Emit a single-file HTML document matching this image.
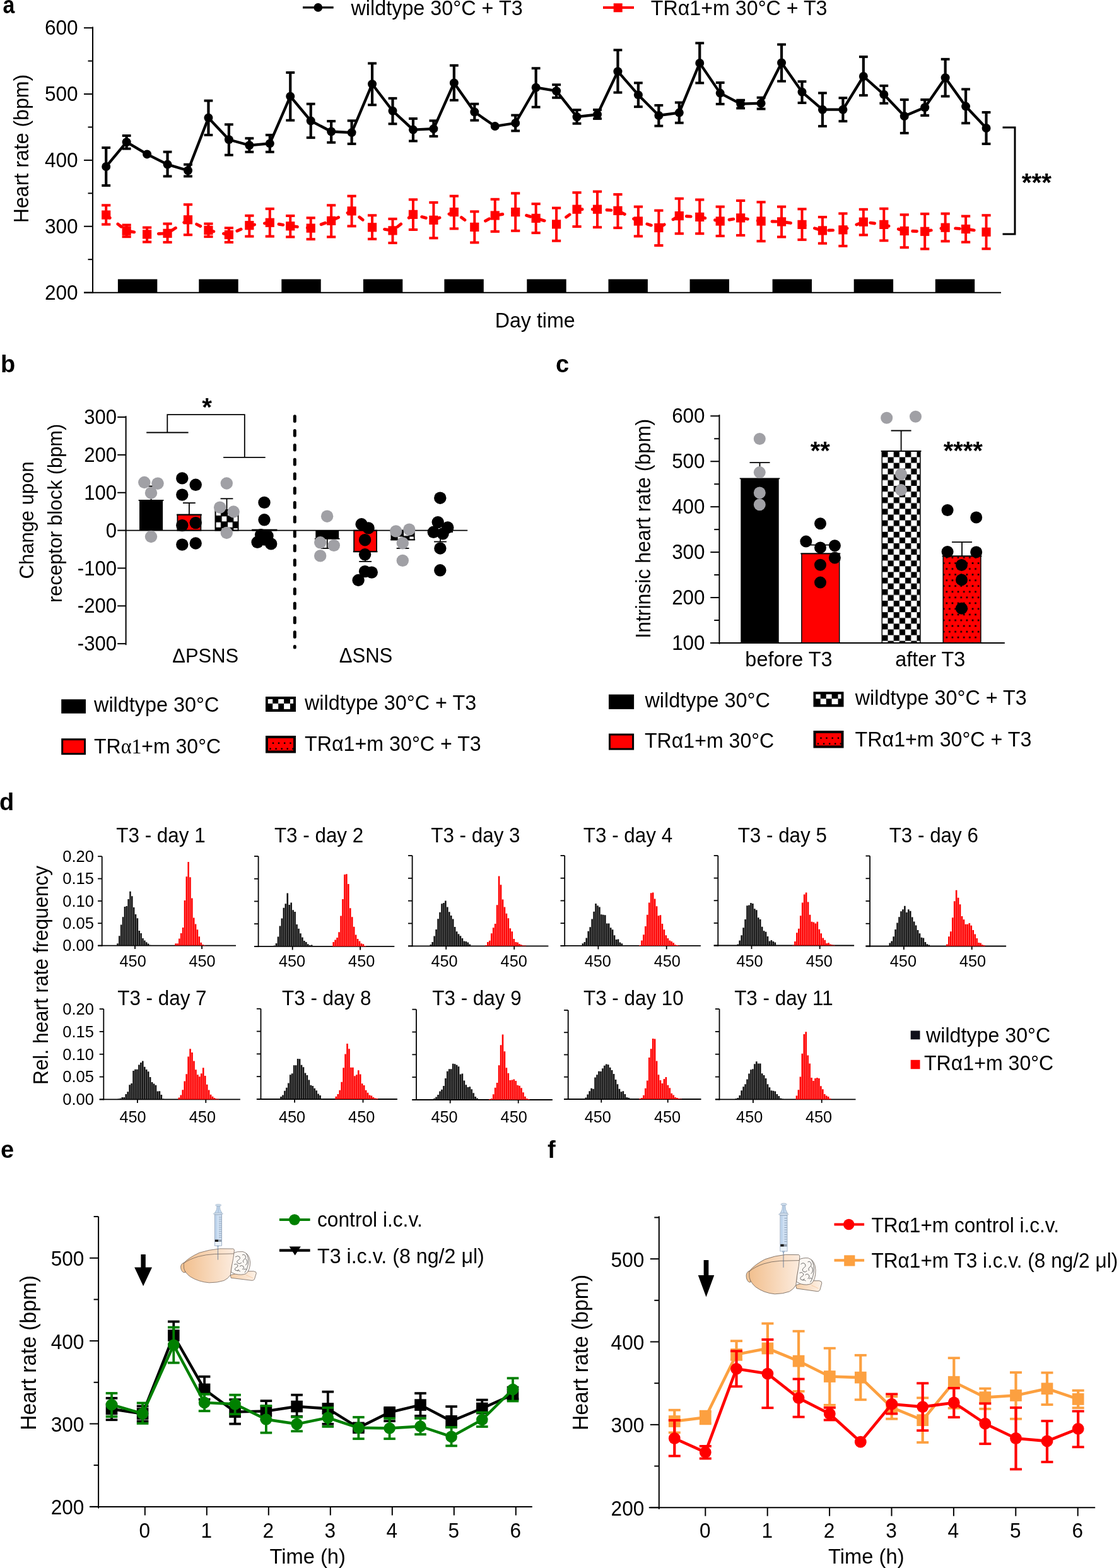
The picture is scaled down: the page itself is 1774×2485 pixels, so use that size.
<!DOCTYPE html><html><head><meta charset="utf-8"><title>Figure</title><style>html,body{margin:0;padding:0;background:#fff}svg{display:block}</style></head><body>
<svg width="1774" height="2485" viewBox="0 0 1774 2485" font-family="'Liberation Sans', Arial, Helvetica, sans-serif">
<rect width="1774" height="2485" fill="#fff"/>
<text transform="translate(4.6,20.8) scale(0.89,1)" font-size="38" font-weight="bold">a</text>
<line x1="480" y1="11.9" x2="528.7" y2="11.9" stroke="#000" stroke-width="3.4"/>
<circle cx="504.3" cy="11.9" r="6.8" fill="#000"/>
<text x="556.5" y="24.4" font-size="32.36" text-anchor="start" fill="#000" transform="matrix(1,0,0,1.04,0,-0.98)">wildtype 30°C + T3</text>
<line x1="956" y1="11.9" x2="1005" y2="11.9" stroke="#f00" stroke-width="4"/>
<rect x="972.7" y="5.3" width="14" height="14" fill="#f00"/>
<text x="1031.8" y="24.4" font-size="32.22" text-anchor="start" fill="#000" transform="matrix(1,0,0,1.04,0,-0.98)">TRα1+m 30°C + T3</text>
<line x1="147" y1="42.5" x2="147" y2="464.6" stroke="#000" stroke-width="2"/>
<line x1="133" y1="463.6" x2="147" y2="463.6" stroke="#000" stroke-width="2"/>
<text x="123.6" y="474.9" font-size="31.6" text-anchor="end" fill="#000" transform="matrix(1,0,0,1.04,0,-19)">200</text>
<line x1="133" y1="358.75" x2="147" y2="358.75" stroke="#000" stroke-width="2"/>
<text x="123.6" y="370.05" font-size="31.6" text-anchor="end" fill="#000" transform="matrix(1,0,0,1.04,0,-14.8)">300</text>
<line x1="133" y1="253.9" x2="147" y2="253.9" stroke="#000" stroke-width="2"/>
<text x="123.6" y="265.2" font-size="31.6" text-anchor="end" fill="#000" transform="matrix(1,0,0,1.04,0,-10.61)">400</text>
<line x1="133" y1="149.05" x2="147" y2="149.05" stroke="#000" stroke-width="2"/>
<text x="123.6" y="160.35" font-size="31.6" text-anchor="end" fill="#000" transform="matrix(1,0,0,1.04,0,-6.41)">500</text>
<line x1="133" y1="44.2" x2="147" y2="44.2" stroke="#000" stroke-width="2"/>
<text x="123.6" y="55.5" font-size="31.6" text-anchor="end" fill="#000" transform="matrix(1,0,0,1.04,0,-2.22)">600</text>
<line x1="139.5" y1="411.18" x2="147" y2="411.18" stroke="#000" stroke-width="2"/>
<line x1="139.5" y1="306.33" x2="147" y2="306.33" stroke="#000" stroke-width="2"/>
<line x1="139.5" y1="201.48" x2="147" y2="201.48" stroke="#000" stroke-width="2"/>
<line x1="139.5" y1="96.62" x2="147" y2="96.62" stroke="#000" stroke-width="2"/>
<line x1="133" y1="463.8" x2="1587" y2="463.8" stroke="#000" stroke-width="2"/>
<text transform="translate(44.6,235.5) rotate(-90) scale(1,1.04)" font-size="32.1" text-anchor="middle">Heart rate (bpm)</text>
<text x="848.2" y="519" font-size="32.2" text-anchor="middle" fill="#000" transform="matrix(1,0,0,1.04,0,-20.76)">Day time</text>
<rect x="186.9" y="442.5" width="62.4" height="21.5" fill="#000"/>
<rect x="315.3" y="442.5" width="62.4" height="21.5" fill="#000"/>
<rect x="446.3" y="442.5" width="62.4" height="21.5" fill="#000"/>
<rect x="575.9" y="442.5" width="62.4" height="21.5" fill="#000"/>
<rect x="704.4" y="442.5" width="62.4" height="21.5" fill="#000"/>
<rect x="835.3" y="442.5" width="62.4" height="21.5" fill="#000"/>
<rect x="964.5" y="442.5" width="62.4" height="21.5" fill="#000"/>
<rect x="1093.6" y="442.5" width="62.4" height="21.5" fill="#000"/>
<rect x="1224.6" y="442.5" width="62.4" height="21.5" fill="#000"/>
<rect x="1353.7" y="442.5" width="62.4" height="21.5" fill="#000"/>
<rect x="1482.8" y="442.5" width="62.4" height="21.5" fill="#000"/>
<path d="M1589.5,202 H1609 V370.9 H1589.5" fill="none" stroke="#000" stroke-width="3"/>
<text x="1643.3" y="303.3" font-size="40.4" text-anchor="middle" font-weight="bold" fill="#000">***</text>
<line x1="168.2" y1="234.1" x2="168.2" y2="294" stroke="#000" stroke-width="4.2"/>
<line x1="161.3" y1="234.1" x2="175.1" y2="234.1" stroke="#000" stroke-width="3.9"/>
<line x1="161.3" y1="294" x2="175.1" y2="294" stroke="#000" stroke-width="3.9"/>
<line x1="200.65" y1="215" x2="200.65" y2="235.7" stroke="#000" stroke-width="4.2"/>
<line x1="193.75" y1="215" x2="207.55" y2="215" stroke="#000" stroke-width="3.9"/>
<line x1="193.75" y1="235.7" x2="207.55" y2="235.7" stroke="#000" stroke-width="3.9"/>
<line x1="265.55" y1="240.7" x2="265.55" y2="279.4" stroke="#000" stroke-width="4.2"/>
<line x1="258.65" y1="240.7" x2="272.45" y2="240.7" stroke="#000" stroke-width="3.9"/>
<line x1="258.65" y1="279.4" x2="272.45" y2="279.4" stroke="#000" stroke-width="3.9"/>
<line x1="298" y1="260.7" x2="298" y2="279.4" stroke="#000" stroke-width="4.2"/>
<line x1="291.1" y1="260.7" x2="304.9" y2="260.7" stroke="#000" stroke-width="3.9"/>
<line x1="291.1" y1="279.4" x2="304.9" y2="279.4" stroke="#000" stroke-width="3.9"/>
<line x1="330.45" y1="159.6" x2="330.45" y2="214" stroke="#000" stroke-width="4.2"/>
<line x1="323.55" y1="159.6" x2="337.35" y2="159.6" stroke="#000" stroke-width="3.9"/>
<line x1="323.55" y1="214" x2="337.35" y2="214" stroke="#000" stroke-width="3.9"/>
<line x1="362.9" y1="197.3" x2="362.9" y2="245.7" stroke="#000" stroke-width="4.2"/>
<line x1="356" y1="197.3" x2="369.8" y2="197.3" stroke="#000" stroke-width="3.9"/>
<line x1="356" y1="245.7" x2="369.8" y2="245.7" stroke="#000" stroke-width="3.9"/>
<line x1="395.35" y1="219.2" x2="395.35" y2="240.8" stroke="#000" stroke-width="4.2"/>
<line x1="388.45" y1="219.2" x2="402.25" y2="219.2" stroke="#000" stroke-width="3.9"/>
<line x1="388.45" y1="240.8" x2="402.25" y2="240.8" stroke="#000" stroke-width="3.9"/>
<line x1="427.8" y1="213.9" x2="427.8" y2="240.8" stroke="#000" stroke-width="4.2"/>
<line x1="420.9" y1="213.9" x2="434.7" y2="213.9" stroke="#000" stroke-width="3.9"/>
<line x1="420.9" y1="240.8" x2="434.7" y2="240.8" stroke="#000" stroke-width="3.9"/>
<line x1="460.25" y1="115" x2="460.25" y2="190.7" stroke="#000" stroke-width="4.2"/>
<line x1="453.35" y1="115" x2="467.15" y2="115" stroke="#000" stroke-width="3.9"/>
<line x1="453.35" y1="190.7" x2="467.15" y2="190.7" stroke="#000" stroke-width="3.9"/>
<line x1="492.7" y1="164.7" x2="492.7" y2="218.2" stroke="#000" stroke-width="4.2"/>
<line x1="485.8" y1="164.7" x2="499.6" y2="164.7" stroke="#000" stroke-width="3.9"/>
<line x1="485.8" y1="218.2" x2="499.6" y2="218.2" stroke="#000" stroke-width="3.9"/>
<line x1="525.15" y1="192" x2="525.15" y2="225.8" stroke="#000" stroke-width="4.2"/>
<line x1="518.25" y1="192" x2="532.05" y2="192" stroke="#000" stroke-width="3.9"/>
<line x1="518.25" y1="225.8" x2="532.05" y2="225.8" stroke="#000" stroke-width="3.9"/>
<line x1="557.6" y1="191.3" x2="557.6" y2="228" stroke="#000" stroke-width="4.2"/>
<line x1="550.7" y1="191.3" x2="564.5" y2="191.3" stroke="#000" stroke-width="3.9"/>
<line x1="550.7" y1="228" x2="564.5" y2="228" stroke="#000" stroke-width="3.9"/>
<line x1="590.05" y1="100.4" x2="590.05" y2="166.3" stroke="#000" stroke-width="4.2"/>
<line x1="583.15" y1="100.4" x2="596.95" y2="100.4" stroke="#000" stroke-width="3.9"/>
<line x1="583.15" y1="166.3" x2="596.95" y2="166.3" stroke="#000" stroke-width="3.9"/>
<line x1="622.5" y1="155.8" x2="622.5" y2="196.3" stroke="#000" stroke-width="4.2"/>
<line x1="615.6" y1="155.8" x2="629.4" y2="155.8" stroke="#000" stroke-width="3.9"/>
<line x1="615.6" y1="196.3" x2="629.4" y2="196.3" stroke="#000" stroke-width="3.9"/>
<line x1="654.95" y1="188" x2="654.95" y2="223.5" stroke="#000" stroke-width="4.2"/>
<line x1="648.05" y1="188" x2="661.85" y2="188" stroke="#000" stroke-width="3.9"/>
<line x1="648.05" y1="223.5" x2="661.85" y2="223.5" stroke="#000" stroke-width="3.9"/>
<line x1="687.4" y1="191.3" x2="687.4" y2="216" stroke="#000" stroke-width="4.2"/>
<line x1="680.5" y1="191.3" x2="694.3" y2="191.3" stroke="#000" stroke-width="3.9"/>
<line x1="680.5" y1="216" x2="694.3" y2="216" stroke="#000" stroke-width="3.9"/>
<line x1="719.85" y1="103.7" x2="719.85" y2="158.8" stroke="#000" stroke-width="4.2"/>
<line x1="712.95" y1="103.7" x2="726.75" y2="103.7" stroke="#000" stroke-width="3.9"/>
<line x1="712.95" y1="158.8" x2="726.75" y2="158.8" stroke="#000" stroke-width="3.9"/>
<line x1="752.3" y1="164.7" x2="752.3" y2="190.7" stroke="#000" stroke-width="4.2"/>
<line x1="745.4" y1="164.7" x2="759.2" y2="164.7" stroke="#000" stroke-width="3.9"/>
<line x1="745.4" y1="190.7" x2="759.2" y2="190.7" stroke="#000" stroke-width="3.9"/>
<line x1="817.2" y1="182.6" x2="817.2" y2="207.4" stroke="#000" stroke-width="4.2"/>
<line x1="810.3" y1="182.6" x2="824.1" y2="182.6" stroke="#000" stroke-width="3.9"/>
<line x1="810.3" y1="207.4" x2="824.1" y2="207.4" stroke="#000" stroke-width="3.9"/>
<line x1="849.65" y1="108.2" x2="849.65" y2="169.7" stroke="#000" stroke-width="4.2"/>
<line x1="842.75" y1="108.2" x2="856.55" y2="108.2" stroke="#000" stroke-width="3.9"/>
<line x1="842.75" y1="169.7" x2="856.55" y2="169.7" stroke="#000" stroke-width="3.9"/>
<line x1="882.1" y1="134.3" x2="882.1" y2="154.8" stroke="#000" stroke-width="4.2"/>
<line x1="875.2" y1="134.3" x2="889" y2="134.3" stroke="#000" stroke-width="3.9"/>
<line x1="875.2" y1="154.8" x2="889" y2="154.8" stroke="#000" stroke-width="3.9"/>
<line x1="914.55" y1="174.2" x2="914.55" y2="195.8" stroke="#000" stroke-width="4.2"/>
<line x1="907.65" y1="174.2" x2="921.45" y2="174.2" stroke="#000" stroke-width="3.9"/>
<line x1="907.65" y1="195.8" x2="921.45" y2="195.8" stroke="#000" stroke-width="3.9"/>
<line x1="947" y1="174" x2="947" y2="188.1" stroke="#000" stroke-width="4.2"/>
<line x1="940.1" y1="174" x2="953.9" y2="174" stroke="#000" stroke-width="3.9"/>
<line x1="940.1" y1="188.1" x2="953.9" y2="188.1" stroke="#000" stroke-width="3.9"/>
<line x1="979.45" y1="79.3" x2="979.45" y2="146.6" stroke="#000" stroke-width="4.2"/>
<line x1="972.55" y1="79.3" x2="986.35" y2="79.3" stroke="#000" stroke-width="3.9"/>
<line x1="972.55" y1="146.6" x2="986.35" y2="146.6" stroke="#000" stroke-width="3.9"/>
<line x1="1011.9" y1="131.4" x2="1011.9" y2="169.2" stroke="#000" stroke-width="4.2"/>
<line x1="1005" y1="131.4" x2="1018.8" y2="131.4" stroke="#000" stroke-width="3.9"/>
<line x1="1005" y1="169.2" x2="1018.8" y2="169.2" stroke="#000" stroke-width="3.9"/>
<line x1="1044.35" y1="166.9" x2="1044.35" y2="199.6" stroke="#000" stroke-width="4.2"/>
<line x1="1037.45" y1="166.9" x2="1051.25" y2="166.9" stroke="#000" stroke-width="3.9"/>
<line x1="1037.45" y1="199.6" x2="1051.25" y2="199.6" stroke="#000" stroke-width="3.9"/>
<line x1="1076.8" y1="162.5" x2="1076.8" y2="194.7" stroke="#000" stroke-width="4.2"/>
<line x1="1069.9" y1="162.5" x2="1083.7" y2="162.5" stroke="#000" stroke-width="3.9"/>
<line x1="1069.9" y1="194.7" x2="1083.7" y2="194.7" stroke="#000" stroke-width="3.9"/>
<line x1="1109.25" y1="68.3" x2="1109.25" y2="131.5" stroke="#000" stroke-width="4.2"/>
<line x1="1102.35" y1="68.3" x2="1116.15" y2="68.3" stroke="#000" stroke-width="3.9"/>
<line x1="1102.35" y1="131.5" x2="1116.15" y2="131.5" stroke="#000" stroke-width="3.9"/>
<line x1="1141.7" y1="131" x2="1141.7" y2="164.9" stroke="#000" stroke-width="4.2"/>
<line x1="1134.8" y1="131" x2="1148.6" y2="131" stroke="#000" stroke-width="3.9"/>
<line x1="1134.8" y1="164.9" x2="1148.6" y2="164.9" stroke="#000" stroke-width="3.9"/>
<line x1="1174.15" y1="158.7" x2="1174.15" y2="171.5" stroke="#000" stroke-width="4.2"/>
<line x1="1167.25" y1="158.7" x2="1181.05" y2="158.7" stroke="#000" stroke-width="3.9"/>
<line x1="1167.25" y1="171.5" x2="1181.05" y2="171.5" stroke="#000" stroke-width="3.9"/>
<line x1="1206.6" y1="154.7" x2="1206.6" y2="172.6" stroke="#000" stroke-width="4.2"/>
<line x1="1199.7" y1="154.7" x2="1213.5" y2="154.7" stroke="#000" stroke-width="3.9"/>
<line x1="1199.7" y1="172.6" x2="1213.5" y2="172.6" stroke="#000" stroke-width="3.9"/>
<line x1="1239.05" y1="70.5" x2="1239.05" y2="128.7" stroke="#000" stroke-width="4.2"/>
<line x1="1232.15" y1="70.5" x2="1245.95" y2="70.5" stroke="#000" stroke-width="3.9"/>
<line x1="1232.15" y1="128.7" x2="1245.95" y2="128.7" stroke="#000" stroke-width="3.9"/>
<line x1="1271.5" y1="129.2" x2="1271.5" y2="163" stroke="#000" stroke-width="4.2"/>
<line x1="1264.6" y1="129.2" x2="1278.4" y2="129.2" stroke="#000" stroke-width="3.9"/>
<line x1="1264.6" y1="163" x2="1278.4" y2="163" stroke="#000" stroke-width="3.9"/>
<line x1="1303.95" y1="147.4" x2="1303.95" y2="200" stroke="#000" stroke-width="4.2"/>
<line x1="1297.05" y1="147.4" x2="1310.85" y2="147.4" stroke="#000" stroke-width="3.9"/>
<line x1="1297.05" y1="200" x2="1310.85" y2="200" stroke="#000" stroke-width="3.9"/>
<line x1="1336.4" y1="155.2" x2="1336.4" y2="192.1" stroke="#000" stroke-width="4.2"/>
<line x1="1329.5" y1="155.2" x2="1343.3" y2="155.2" stroke="#000" stroke-width="3.9"/>
<line x1="1329.5" y1="192.1" x2="1343.3" y2="192.1" stroke="#000" stroke-width="3.9"/>
<line x1="1368.85" y1="90" x2="1368.85" y2="151.1" stroke="#000" stroke-width="4.2"/>
<line x1="1361.95" y1="90" x2="1375.75" y2="90" stroke="#000" stroke-width="3.9"/>
<line x1="1361.95" y1="151.1" x2="1375.75" y2="151.1" stroke="#000" stroke-width="3.9"/>
<line x1="1401.3" y1="135.9" x2="1401.3" y2="163.7" stroke="#000" stroke-width="4.2"/>
<line x1="1394.4" y1="135.9" x2="1408.2" y2="135.9" stroke="#000" stroke-width="3.9"/>
<line x1="1394.4" y1="163.7" x2="1408.2" y2="163.7" stroke="#000" stroke-width="3.9"/>
<line x1="1433.75" y1="158" x2="1433.75" y2="210.9" stroke="#000" stroke-width="4.2"/>
<line x1="1426.85" y1="158" x2="1440.65" y2="158" stroke="#000" stroke-width="3.9"/>
<line x1="1426.85" y1="210.9" x2="1440.65" y2="210.9" stroke="#000" stroke-width="3.9"/>
<line x1="1466.2" y1="158" x2="1466.2" y2="183" stroke="#000" stroke-width="4.2"/>
<line x1="1459.3" y1="158" x2="1473.1" y2="158" stroke="#000" stroke-width="3.9"/>
<line x1="1459.3" y1="183" x2="1473.1" y2="183" stroke="#000" stroke-width="3.9"/>
<line x1="1498.65" y1="93.8" x2="1498.65" y2="152.6" stroke="#000" stroke-width="4.2"/>
<line x1="1491.75" y1="93.8" x2="1505.55" y2="93.8" stroke="#000" stroke-width="3.9"/>
<line x1="1491.75" y1="152.6" x2="1505.55" y2="152.6" stroke="#000" stroke-width="3.9"/>
<line x1="1531.1" y1="141.4" x2="1531.1" y2="195.2" stroke="#000" stroke-width="4.2"/>
<line x1="1524.2" y1="141.4" x2="1538" y2="141.4" stroke="#000" stroke-width="3.9"/>
<line x1="1524.2" y1="195.2" x2="1538" y2="195.2" stroke="#000" stroke-width="3.9"/>
<line x1="1563.55" y1="178" x2="1563.55" y2="228" stroke="#000" stroke-width="4.2"/>
<line x1="1556.65" y1="178" x2="1570.45" y2="178" stroke="#000" stroke-width="3.9"/>
<line x1="1556.65" y1="228" x2="1570.45" y2="228" stroke="#000" stroke-width="3.9"/>
<polyline points="168.2,264 200.65,225.2 233.1,244.4 265.55,260.6 298,270.2 330.45,186.8 362.9,221.2 395.35,230.3 427.8,227.4 460.25,152.7 492.7,191.5 525.15,208.5 557.6,210.1 590.05,133.2 622.5,175.7 654.95,205.6 687.4,204.1 719.85,131.4 752.3,177.5 784.75,200.1 817.2,195 849.65,138.7 882.1,144.2 914.55,185.2 947,181.5 979.45,113.2 1011.9,150.4 1044.35,183 1076.8,178.6 1109.25,99.9 1141.7,147.6 1174.15,164.6 1206.6,163.7 1239.05,99.5 1271.5,145.8 1303.95,173.7 1336.4,173.7 1368.85,121 1401.3,149.8 1433.75,184.1 1466.2,170.2 1498.65,123.2 1531.1,168.6 1563.55,203" fill="none" stroke="#000" stroke-width="4.3" stroke-linejoin="round"/>
<circle cx="168.2" cy="264" r="7" fill="#000"/>
<circle cx="200.65" cy="225.2" r="7" fill="#000"/>
<circle cx="233.1" cy="244.4" r="7" fill="#000"/>
<circle cx="265.55" cy="260.6" r="7" fill="#000"/>
<circle cx="298" cy="270.2" r="7" fill="#000"/>
<circle cx="330.45" cy="186.8" r="7" fill="#000"/>
<circle cx="362.9" cy="221.2" r="7" fill="#000"/>
<circle cx="395.35" cy="230.3" r="7" fill="#000"/>
<circle cx="427.8" cy="227.4" r="7" fill="#000"/>
<circle cx="460.25" cy="152.7" r="7" fill="#000"/>
<circle cx="492.7" cy="191.5" r="7" fill="#000"/>
<circle cx="525.15" cy="208.5" r="7" fill="#000"/>
<circle cx="557.6" cy="210.1" r="7" fill="#000"/>
<circle cx="590.05" cy="133.2" r="7" fill="#000"/>
<circle cx="622.5" cy="175.7" r="7" fill="#000"/>
<circle cx="654.95" cy="205.6" r="7" fill="#000"/>
<circle cx="687.4" cy="204.1" r="7" fill="#000"/>
<circle cx="719.85" cy="131.4" r="7" fill="#000"/>
<circle cx="752.3" cy="177.5" r="7" fill="#000"/>
<circle cx="784.75" cy="200.1" r="7" fill="#000"/>
<circle cx="817.2" cy="195" r="7" fill="#000"/>
<circle cx="849.65" cy="138.7" r="7" fill="#000"/>
<circle cx="882.1" cy="144.2" r="7" fill="#000"/>
<circle cx="914.55" cy="185.2" r="7" fill="#000"/>
<circle cx="947" cy="181.5" r="7" fill="#000"/>
<circle cx="979.45" cy="113.2" r="7" fill="#000"/>
<circle cx="1011.9" cy="150.4" r="7" fill="#000"/>
<circle cx="1044.35" cy="183" r="7" fill="#000"/>
<circle cx="1076.8" cy="178.6" r="7" fill="#000"/>
<circle cx="1109.25" cy="99.9" r="7" fill="#000"/>
<circle cx="1141.7" cy="147.6" r="7" fill="#000"/>
<circle cx="1174.15" cy="164.6" r="7" fill="#000"/>
<circle cx="1206.6" cy="163.7" r="7" fill="#000"/>
<circle cx="1239.05" cy="99.5" r="7" fill="#000"/>
<circle cx="1271.5" cy="145.8" r="7" fill="#000"/>
<circle cx="1303.95" cy="173.7" r="7" fill="#000"/>
<circle cx="1336.4" cy="173.7" r="7" fill="#000"/>
<circle cx="1368.85" cy="121" r="7" fill="#000"/>
<circle cx="1401.3" cy="149.8" r="7" fill="#000"/>
<circle cx="1433.75" cy="184.1" r="7" fill="#000"/>
<circle cx="1466.2" cy="170.2" r="7" fill="#000"/>
<circle cx="1498.65" cy="123.2" r="7" fill="#000"/>
<circle cx="1531.1" cy="168.6" r="7" fill="#000"/>
<circle cx="1563.55" cy="203" r="7" fill="#000"/>
<line x1="168.2" y1="325.3" x2="168.2" y2="355.6" stroke="#f00" stroke-width="4.0"/>
<line x1="161.1" y1="325.3" x2="175.3" y2="325.3" stroke="#f00" stroke-width="4.0"/>
<line x1="161.1" y1="355.6" x2="175.3" y2="355.6" stroke="#f00" stroke-width="4.0"/>
<line x1="200.65" y1="356.6" x2="200.65" y2="375.2" stroke="#f00" stroke-width="4.0"/>
<line x1="193.55" y1="356.6" x2="207.75" y2="356.6" stroke="#f00" stroke-width="4.0"/>
<line x1="193.55" y1="375.2" x2="207.75" y2="375.2" stroke="#f00" stroke-width="4.0"/>
<line x1="233.1" y1="360.6" x2="233.1" y2="383.5" stroke="#f00" stroke-width="4.0"/>
<line x1="226" y1="360.6" x2="240.2" y2="360.6" stroke="#f00" stroke-width="4.0"/>
<line x1="226" y1="383.5" x2="240.2" y2="383.5" stroke="#f00" stroke-width="4.0"/>
<line x1="265.55" y1="354.6" x2="265.55" y2="383.9" stroke="#f00" stroke-width="4.0"/>
<line x1="258.45" y1="354.6" x2="272.65" y2="354.6" stroke="#f00" stroke-width="4.0"/>
<line x1="258.45" y1="383.9" x2="272.65" y2="383.9" stroke="#f00" stroke-width="4.0"/>
<line x1="298" y1="324.2" x2="298" y2="372.2" stroke="#f00" stroke-width="4.0"/>
<line x1="290.9" y1="324.2" x2="305.1" y2="324.2" stroke="#f00" stroke-width="4.0"/>
<line x1="290.9" y1="372.2" x2="305.1" y2="372.2" stroke="#f00" stroke-width="4.0"/>
<line x1="330.45" y1="354.6" x2="330.45" y2="375.1" stroke="#f00" stroke-width="4.0"/>
<line x1="323.35" y1="354.6" x2="337.55" y2="354.6" stroke="#f00" stroke-width="4.0"/>
<line x1="323.35" y1="375.1" x2="337.55" y2="375.1" stroke="#f00" stroke-width="4.0"/>
<line x1="362.9" y1="361.3" x2="362.9" y2="383.9" stroke="#f00" stroke-width="4.0"/>
<line x1="355.8" y1="361.3" x2="370" y2="361.3" stroke="#f00" stroke-width="4.0"/>
<line x1="355.8" y1="383.9" x2="370" y2="383.9" stroke="#f00" stroke-width="4.0"/>
<line x1="395.35" y1="341.8" x2="395.35" y2="374.6" stroke="#f00" stroke-width="4.0"/>
<line x1="388.25" y1="341.8" x2="402.45" y2="341.8" stroke="#f00" stroke-width="4.0"/>
<line x1="388.25" y1="374.6" x2="402.45" y2="374.6" stroke="#f00" stroke-width="4.0"/>
<line x1="427.8" y1="330.9" x2="427.8" y2="374.6" stroke="#f00" stroke-width="4.0"/>
<line x1="420.7" y1="330.9" x2="434.9" y2="330.9" stroke="#f00" stroke-width="4.0"/>
<line x1="420.7" y1="374.6" x2="434.9" y2="374.6" stroke="#f00" stroke-width="4.0"/>
<line x1="460.25" y1="342" x2="460.25" y2="375.5" stroke="#f00" stroke-width="4.0"/>
<line x1="453.15" y1="342" x2="467.35" y2="342" stroke="#f00" stroke-width="4.0"/>
<line x1="453.15" y1="375.5" x2="467.35" y2="375.5" stroke="#f00" stroke-width="4.0"/>
<line x1="492.7" y1="345.3" x2="492.7" y2="379.1" stroke="#f00" stroke-width="4.0"/>
<line x1="485.6" y1="345.3" x2="499.8" y2="345.3" stroke="#f00" stroke-width="4.0"/>
<line x1="485.6" y1="379.1" x2="499.8" y2="379.1" stroke="#f00" stroke-width="4.0"/>
<line x1="525.15" y1="325.3" x2="525.15" y2="375.5" stroke="#f00" stroke-width="4.0"/>
<line x1="518.05" y1="325.3" x2="532.25" y2="325.3" stroke="#f00" stroke-width="4.0"/>
<line x1="518.05" y1="375.5" x2="532.25" y2="375.5" stroke="#f00" stroke-width="4.0"/>
<line x1="557.6" y1="310.7" x2="557.6" y2="358.4" stroke="#f00" stroke-width="4.0"/>
<line x1="550.5" y1="310.7" x2="564.7" y2="310.7" stroke="#f00" stroke-width="4.0"/>
<line x1="550.5" y1="358.4" x2="564.7" y2="358.4" stroke="#f00" stroke-width="4.0"/>
<line x1="590.05" y1="341.3" x2="590.05" y2="378.8" stroke="#f00" stroke-width="4.0"/>
<line x1="582.95" y1="341.3" x2="597.15" y2="341.3" stroke="#f00" stroke-width="4.0"/>
<line x1="582.95" y1="378.8" x2="597.15" y2="378.8" stroke="#f00" stroke-width="4.0"/>
<line x1="622.5" y1="346.9" x2="622.5" y2="385" stroke="#f00" stroke-width="4.0"/>
<line x1="615.4" y1="346.9" x2="629.6" y2="346.9" stroke="#f00" stroke-width="4.0"/>
<line x1="615.4" y1="385" x2="629.6" y2="385" stroke="#f00" stroke-width="4.0"/>
<line x1="654.95" y1="316.3" x2="654.95" y2="364" stroke="#f00" stroke-width="4.0"/>
<line x1="647.85" y1="316.3" x2="662.05" y2="316.3" stroke="#f00" stroke-width="4.0"/>
<line x1="647.85" y1="364" x2="662.05" y2="364" stroke="#f00" stroke-width="4.0"/>
<line x1="687.4" y1="320.9" x2="687.4" y2="377.3" stroke="#f00" stroke-width="4.0"/>
<line x1="680.3" y1="320.9" x2="694.5" y2="320.9" stroke="#f00" stroke-width="4.0"/>
<line x1="680.3" y1="377.3" x2="694.5" y2="377.3" stroke="#f00" stroke-width="4.0"/>
<line x1="719.85" y1="310.7" x2="719.85" y2="362.4" stroke="#f00" stroke-width="4.0"/>
<line x1="712.75" y1="310.7" x2="726.95" y2="310.7" stroke="#f00" stroke-width="4.0"/>
<line x1="712.75" y1="362.4" x2="726.95" y2="362.4" stroke="#f00" stroke-width="4.0"/>
<line x1="752.3" y1="335.3" x2="752.3" y2="384.4" stroke="#f00" stroke-width="4.0"/>
<line x1="745.2" y1="335.3" x2="759.4" y2="335.3" stroke="#f00" stroke-width="4.0"/>
<line x1="745.2" y1="384.4" x2="759.4" y2="384.4" stroke="#f00" stroke-width="4.0"/>
<line x1="784.75" y1="315.8" x2="784.75" y2="366.9" stroke="#f00" stroke-width="4.0"/>
<line x1="777.65" y1="315.8" x2="791.85" y2="315.8" stroke="#f00" stroke-width="4.0"/>
<line x1="777.65" y1="366.9" x2="791.85" y2="366.9" stroke="#f00" stroke-width="4.0"/>
<line x1="817.2" y1="306.3" x2="817.2" y2="365.8" stroke="#f00" stroke-width="4.0"/>
<line x1="810.1" y1="306.3" x2="824.3" y2="306.3" stroke="#f00" stroke-width="4.0"/>
<line x1="810.1" y1="365.8" x2="824.3" y2="365.8" stroke="#f00" stroke-width="4.0"/>
<line x1="849.65" y1="323.1" x2="849.65" y2="369.1" stroke="#f00" stroke-width="4.0"/>
<line x1="842.55" y1="323.1" x2="856.75" y2="323.1" stroke="#f00" stroke-width="4.0"/>
<line x1="842.55" y1="369.1" x2="856.75" y2="369.1" stroke="#f00" stroke-width="4.0"/>
<line x1="882.1" y1="329.6" x2="882.1" y2="381.7" stroke="#f00" stroke-width="4.0"/>
<line x1="875" y1="329.6" x2="889.2" y2="329.6" stroke="#f00" stroke-width="4.0"/>
<line x1="875" y1="381.7" x2="889.2" y2="381.7" stroke="#f00" stroke-width="4.0"/>
<line x1="914.55" y1="305.2" x2="914.55" y2="359.1" stroke="#f00" stroke-width="4.0"/>
<line x1="907.45" y1="305.2" x2="921.65" y2="305.2" stroke="#f00" stroke-width="4.0"/>
<line x1="907.45" y1="359.1" x2="921.65" y2="359.1" stroke="#f00" stroke-width="4.0"/>
<line x1="947" y1="303.6" x2="947" y2="360.2" stroke="#f00" stroke-width="4.0"/>
<line x1="939.9" y1="303.6" x2="954.1" y2="303.6" stroke="#f00" stroke-width="4.0"/>
<line x1="939.9" y1="360.2" x2="954.1" y2="360.2" stroke="#f00" stroke-width="4.0"/>
<line x1="979.45" y1="308.1" x2="979.45" y2="361.1" stroke="#f00" stroke-width="4.0"/>
<line x1="972.35" y1="308.1" x2="986.55" y2="308.1" stroke="#f00" stroke-width="4.0"/>
<line x1="972.35" y1="361.1" x2="986.55" y2="361.1" stroke="#f00" stroke-width="4.0"/>
<line x1="1011.9" y1="327.6" x2="1011.9" y2="374.4" stroke="#f00" stroke-width="4.0"/>
<line x1="1004.8" y1="327.6" x2="1019" y2="327.6" stroke="#f00" stroke-width="4.0"/>
<line x1="1004.8" y1="374.4" x2="1019" y2="374.4" stroke="#f00" stroke-width="4.0"/>
<line x1="1044.35" y1="333.6" x2="1044.35" y2="389" stroke="#f00" stroke-width="4.0"/>
<line x1="1037.25" y1="333.6" x2="1051.45" y2="333.6" stroke="#f00" stroke-width="4.0"/>
<line x1="1037.25" y1="389" x2="1051.45" y2="389" stroke="#f00" stroke-width="4.0"/>
<line x1="1076.8" y1="314.7" x2="1076.8" y2="370.2" stroke="#f00" stroke-width="4.0"/>
<line x1="1069.7" y1="314.7" x2="1083.9" y2="314.7" stroke="#f00" stroke-width="4.0"/>
<line x1="1069.7" y1="370.2" x2="1083.9" y2="370.2" stroke="#f00" stroke-width="4.0"/>
<line x1="1109.25" y1="316.5" x2="1109.25" y2="370.2" stroke="#f00" stroke-width="4.0"/>
<line x1="1102.15" y1="316.5" x2="1116.35" y2="316.5" stroke="#f00" stroke-width="4.0"/>
<line x1="1102.15" y1="370.2" x2="1116.35" y2="370.2" stroke="#f00" stroke-width="4.0"/>
<line x1="1141.7" y1="327.6" x2="1141.7" y2="374" stroke="#f00" stroke-width="4.0"/>
<line x1="1134.6" y1="327.6" x2="1148.8" y2="327.6" stroke="#f00" stroke-width="4.0"/>
<line x1="1134.6" y1="374" x2="1148.8" y2="374" stroke="#f00" stroke-width="4.0"/>
<line x1="1174.15" y1="318" x2="1174.15" y2="372.9" stroke="#f00" stroke-width="4.0"/>
<line x1="1167.05" y1="318" x2="1181.25" y2="318" stroke="#f00" stroke-width="4.0"/>
<line x1="1167.05" y1="372.9" x2="1181.25" y2="372.9" stroke="#f00" stroke-width="4.0"/>
<line x1="1206.6" y1="320.3" x2="1206.6" y2="382.2" stroke="#f00" stroke-width="4.0"/>
<line x1="1199.5" y1="320.3" x2="1213.7" y2="320.3" stroke="#f00" stroke-width="4.0"/>
<line x1="1199.5" y1="382.2" x2="1213.7" y2="382.2" stroke="#f00" stroke-width="4.0"/>
<line x1="1239.05" y1="327.6" x2="1239.05" y2="375.5" stroke="#f00" stroke-width="4.0"/>
<line x1="1231.95" y1="327.6" x2="1246.15" y2="327.6" stroke="#f00" stroke-width="4.0"/>
<line x1="1231.95" y1="375.5" x2="1246.15" y2="375.5" stroke="#f00" stroke-width="4.0"/>
<line x1="1271.5" y1="331.3" x2="1271.5" y2="379.9" stroke="#f00" stroke-width="4.0"/>
<line x1="1264.4" y1="331.3" x2="1278.6" y2="331.3" stroke="#f00" stroke-width="4.0"/>
<line x1="1264.4" y1="379.9" x2="1278.6" y2="379.9" stroke="#f00" stroke-width="4.0"/>
<line x1="1303.95" y1="344" x2="1303.95" y2="385.7" stroke="#f00" stroke-width="4.0"/>
<line x1="1296.85" y1="344" x2="1311.05" y2="344" stroke="#f00" stroke-width="4.0"/>
<line x1="1296.85" y1="385.7" x2="1311.05" y2="385.7" stroke="#f00" stroke-width="4.0"/>
<line x1="1336.4" y1="338.4" x2="1336.4" y2="389.9" stroke="#f00" stroke-width="4.0"/>
<line x1="1329.3" y1="338.4" x2="1343.5" y2="338.4" stroke="#f00" stroke-width="4.0"/>
<line x1="1329.3" y1="389.9" x2="1343.5" y2="389.9" stroke="#f00" stroke-width="4.0"/>
<line x1="1368.85" y1="331.8" x2="1368.85" y2="372.4" stroke="#f00" stroke-width="4.0"/>
<line x1="1361.75" y1="331.8" x2="1375.95" y2="331.8" stroke="#f00" stroke-width="4.0"/>
<line x1="1361.75" y1="372.4" x2="1375.95" y2="372.4" stroke="#f00" stroke-width="4.0"/>
<line x1="1401.3" y1="330.7" x2="1401.3" y2="381.3" stroke="#f00" stroke-width="4.0"/>
<line x1="1394.2" y1="330.7" x2="1408.4" y2="330.7" stroke="#f00" stroke-width="4.0"/>
<line x1="1394.2" y1="381.3" x2="1408.4" y2="381.3" stroke="#f00" stroke-width="4.0"/>
<line x1="1433.75" y1="340.3" x2="1433.75" y2="392.2" stroke="#f00" stroke-width="4.0"/>
<line x1="1426.65" y1="340.3" x2="1440.85" y2="340.3" stroke="#f00" stroke-width="4.0"/>
<line x1="1426.65" y1="392.2" x2="1440.85" y2="392.2" stroke="#f00" stroke-width="4.0"/>
<line x1="1466.2" y1="338.9" x2="1466.2" y2="394.5" stroke="#f00" stroke-width="4.0"/>
<line x1="1459.1" y1="338.9" x2="1473.3" y2="338.9" stroke="#f00" stroke-width="4.0"/>
<line x1="1459.1" y1="394.5" x2="1473.3" y2="394.5" stroke="#f00" stroke-width="4.0"/>
<line x1="1498.65" y1="338.6" x2="1498.65" y2="382.3" stroke="#f00" stroke-width="4.0"/>
<line x1="1491.55" y1="338.6" x2="1505.75" y2="338.6" stroke="#f00" stroke-width="4.0"/>
<line x1="1491.55" y1="382.3" x2="1505.75" y2="382.3" stroke="#f00" stroke-width="4.0"/>
<line x1="1531.1" y1="342.6" x2="1531.1" y2="383.7" stroke="#f00" stroke-width="4.0"/>
<line x1="1524" y1="342.6" x2="1538.2" y2="342.6" stroke="#f00" stroke-width="4.0"/>
<line x1="1524" y1="383.7" x2="1538.2" y2="383.7" stroke="#f00" stroke-width="4.0"/>
<line x1="1563.55" y1="341.2" x2="1563.55" y2="394.3" stroke="#f00" stroke-width="4.0"/>
<line x1="1556.45" y1="341.2" x2="1570.65" y2="341.2" stroke="#f00" stroke-width="4.0"/>
<line x1="1556.45" y1="394.3" x2="1570.65" y2="394.3" stroke="#f00" stroke-width="4.0"/>
<polyline points="168.2,340.6 200.65,365.8 233.1,371.4 265.55,369.8 298,348.3 330.45,365 362.9,372 395.35,357.2 427.8,352.8 460.25,358.3 492.7,361.6 525.15,349.9 557.6,334.4 590.05,360.3 622.5,365.4 654.95,339.9 687.4,348.8 719.85,336.1 752.3,359.9 784.75,341.5 817.2,336.1 849.65,345.9 882.1,355.4 914.55,331.7 947,331.7 979.45,333.9 1011.9,350.5 1044.35,361 1076.8,342.1 1109.25,343.9 1141.7,350.5 1174.15,345.4 1206.6,350.5 1239.05,351.4 1271.5,355.9 1303.95,365.4 1336.4,364.3 1368.85,351.7 1401.3,355.9 1433.75,366 1466.2,366.8 1498.65,360.7 1531.1,363 1563.55,367.7" fill="none" stroke="#f00" stroke-width="4.9" stroke-dasharray="6.8 16.06" stroke-linecap="round" stroke-dashoffset="-0.8"/>
<rect x="161.1" y="333.5" width="14.2" height="14.2" fill="#f00"/>
<rect x="193.55" y="358.7" width="14.2" height="14.2" fill="#f00"/>
<rect x="226" y="364.3" width="14.2" height="14.2" fill="#f00"/>
<rect x="258.45" y="362.7" width="14.2" height="14.2" fill="#f00"/>
<rect x="290.9" y="341.2" width="14.2" height="14.2" fill="#f00"/>
<rect x="323.35" y="357.9" width="14.2" height="14.2" fill="#f00"/>
<rect x="355.8" y="364.9" width="14.2" height="14.2" fill="#f00"/>
<rect x="388.25" y="350.1" width="14.2" height="14.2" fill="#f00"/>
<rect x="420.7" y="345.7" width="14.2" height="14.2" fill="#f00"/>
<rect x="453.15" y="351.2" width="14.2" height="14.2" fill="#f00"/>
<rect x="485.6" y="354.5" width="14.2" height="14.2" fill="#f00"/>
<rect x="518.05" y="342.8" width="14.2" height="14.2" fill="#f00"/>
<rect x="550.5" y="327.3" width="14.2" height="14.2" fill="#f00"/>
<rect x="582.95" y="353.2" width="14.2" height="14.2" fill="#f00"/>
<rect x="615.4" y="358.3" width="14.2" height="14.2" fill="#f00"/>
<rect x="647.85" y="332.8" width="14.2" height="14.2" fill="#f00"/>
<rect x="680.3" y="341.7" width="14.2" height="14.2" fill="#f00"/>
<rect x="712.75" y="329" width="14.2" height="14.2" fill="#f00"/>
<rect x="745.2" y="352.8" width="14.2" height="14.2" fill="#f00"/>
<rect x="777.65" y="334.4" width="14.2" height="14.2" fill="#f00"/>
<rect x="810.1" y="329" width="14.2" height="14.2" fill="#f00"/>
<rect x="842.55" y="338.8" width="14.2" height="14.2" fill="#f00"/>
<rect x="875" y="348.3" width="14.2" height="14.2" fill="#f00"/>
<rect x="907.45" y="324.6" width="14.2" height="14.2" fill="#f00"/>
<rect x="939.9" y="324.6" width="14.2" height="14.2" fill="#f00"/>
<rect x="972.35" y="326.8" width="14.2" height="14.2" fill="#f00"/>
<rect x="1004.8" y="343.4" width="14.2" height="14.2" fill="#f00"/>
<rect x="1037.25" y="353.9" width="14.2" height="14.2" fill="#f00"/>
<rect x="1069.7" y="335" width="14.2" height="14.2" fill="#f00"/>
<rect x="1102.15" y="336.8" width="14.2" height="14.2" fill="#f00"/>
<rect x="1134.6" y="343.4" width="14.2" height="14.2" fill="#f00"/>
<rect x="1167.05" y="338.3" width="14.2" height="14.2" fill="#f00"/>
<rect x="1199.5" y="343.4" width="14.2" height="14.2" fill="#f00"/>
<rect x="1231.95" y="344.3" width="14.2" height="14.2" fill="#f00"/>
<rect x="1264.4" y="348.8" width="14.2" height="14.2" fill="#f00"/>
<rect x="1296.85" y="358.3" width="14.2" height="14.2" fill="#f00"/>
<rect x="1329.3" y="357.2" width="14.2" height="14.2" fill="#f00"/>
<rect x="1361.75" y="344.6" width="14.2" height="14.2" fill="#f00"/>
<rect x="1394.2" y="348.8" width="14.2" height="14.2" fill="#f00"/>
<rect x="1426.65" y="358.9" width="14.2" height="14.2" fill="#f00"/>
<rect x="1459.1" y="359.7" width="14.2" height="14.2" fill="#f00"/>
<rect x="1491.55" y="353.6" width="14.2" height="14.2" fill="#f00"/>
<rect x="1524" y="355.9" width="14.2" height="14.2" fill="#f00"/>
<rect x="1556.45" y="360.6" width="14.2" height="14.2" fill="#f00"/>
<text x="0.9" y="590" font-size="38" text-anchor="start" font-weight="bold" fill="#000">b</text>
<line x1="199.6" y1="659.3" x2="199.6" y2="1022.3" stroke="#000" stroke-width="2"/>
<line x1="186.2" y1="1020.15" x2="199.6" y2="1020.15" stroke="#000" stroke-width="2"/>
<text x="185.1" y="1031.25" font-size="31.1" text-anchor="end" fill="#000" transform="matrix(1,0,0,1.04,0,-41.25)">-300</text>
<line x1="186.2" y1="960.3" x2="199.6" y2="960.3" stroke="#000" stroke-width="2"/>
<text x="185.1" y="971.4" font-size="31.1" text-anchor="end" fill="#000" transform="matrix(1,0,0,1.04,0,-38.86)">-200</text>
<line x1="186.2" y1="900.45" x2="199.6" y2="900.45" stroke="#000" stroke-width="2"/>
<text x="185.1" y="911.55" font-size="31.1" text-anchor="end" fill="#000" transform="matrix(1,0,0,1.04,0,-36.46)">-100</text>
<line x1="186.2" y1="840.6" x2="199.6" y2="840.6" stroke="#000" stroke-width="2"/>
<text x="185.1" y="851.7" font-size="31.1" text-anchor="end" fill="#000" transform="matrix(1,0,0,1.04,0,-34.07)">0</text>
<line x1="186.2" y1="780.75" x2="199.6" y2="780.75" stroke="#000" stroke-width="2"/>
<text x="185.1" y="791.85" font-size="31.1" text-anchor="end" fill="#000" transform="matrix(1,0,0,1.04,0,-31.67)">100</text>
<line x1="186.2" y1="720.9" x2="199.6" y2="720.9" stroke="#000" stroke-width="2"/>
<text x="185.1" y="732" font-size="31.1" text-anchor="end" fill="#000" transform="matrix(1,0,0,1.04,0,-29.28)">200</text>
<line x1="186.2" y1="661.05" x2="199.6" y2="661.05" stroke="#000" stroke-width="2"/>
<text x="185.1" y="672.15" font-size="31.1" text-anchor="end" fill="#000" transform="matrix(1,0,0,1.04,0,-26.89)">300</text>
<text transform="translate(52.6,824.4) rotate(-90) scale(1,1.04)" font-size="31.0" text-anchor="middle">Change upon</text>
<text transform="translate(97.5,813.3) rotate(-90) scale(1,1.04)" font-size="30.9" text-anchor="middle">receptor block (bpm)</text>
<text x="325.7" y="1049.7" font-size="30.9" text-anchor="middle" fill="#000" transform="matrix(1,0,0,1.04,0,-41.99)">ΔPSNS</text>
<text x="580" y="1049.7" font-size="31.1" text-anchor="middle" fill="#000" transform="matrix(1,0,0,1.04,0,-41.99)">ΔSNS</text>
<line x1="467.3" y1="659.8" x2="467.3" y2="1026" stroke="#000" stroke-width="5" stroke-dasharray="7.7 15.1" stroke-linecap="round"/>
<path d="M232.2,685.5 H298.6 M265.3,685.5 V657.1 H387.8 V724.8 M354.1,724.8 H420.7" fill="none" stroke="#000" stroke-width="1.8"/>
<text x="328" y="659.4" font-size="40.4" text-anchor="middle" font-weight="bold" fill="#000">*</text>
<defs><pattern id="chkb1" patternUnits="userSpaceOnUse" x="341.4" y="808.4" width="18.6" height="18.8"><rect width="18.6" height="18.8" fill="#000"/><rect x="1" y="0.6" width="7.6" height="8" fill="#fff"/><rect x="10.3" y="10" width="7.6" height="8" fill="#fff"/></pattern><pattern id="chkb2" patternUnits="userSpaceOnUse" x="620.4" y="840.6" width="18.6" height="18.8"><rect width="18.6" height="18.8" fill="#000"/><rect x="1" y="0.6" width="7.6" height="8" fill="#fff"/><rect x="10.3" y="10" width="7.6" height="8" fill="#fff"/></pattern><pattern id="dotb" patternUnits="userSpaceOnUse" x="0" y="0" width="9.15" height="18.1"><rect width="9.15" height="18.1" fill="#f00"/><rect x="3.2" y="3" width="2.6" height="2.6" fill="#000"/><rect x="-1.4" y="12.05" width="2.6" height="2.6" fill="#000"/><rect x="7.75" y="12.05" width="2.6" height="2.6" fill="#000"/></pattern></defs>
<line x1="239.55" y1="792.9" x2="239.55" y2="770.5" stroke="#000" stroke-width="1.8"/>
<line x1="229.65" y1="770.5" x2="249.45" y2="770.5" stroke="#000" stroke-width="1.8"/>
<rect x="221" y="792.9" width="37.1" height="47.7" fill="#000"/>
<line x1="219.6" y1="792.9" x2="259.5" y2="792.9" stroke="#000" stroke-width="1.9"/>
<line x1="299.9" y1="815.7" x2="299.9" y2="797.1" stroke="#000" stroke-width="1.8"/>
<line x1="290" y1="797.1" x2="309.8" y2="797.1" stroke="#000" stroke-width="1.8"/>
<rect x="281.4" y="815.7" width="37" height="24.9" fill="#f00" stroke="#000" stroke-width="1.8"/>
<line x1="280" y1="815.7" x2="319.8" y2="815.7" stroke="#000" stroke-width="1.9"/>
<line x1="359.5" y1="807.9" x2="359.5" y2="790.3" stroke="#000" stroke-width="1.8"/>
<line x1="349.6" y1="790.3" x2="369.4" y2="790.3" stroke="#000" stroke-width="1.8"/>
<rect x="341.4" y="807.9" width="36.2" height="32.7" fill="url(#chkb1)" stroke="#000" stroke-width="1.8"/>
<line x1="340" y1="807.9" x2="379" y2="807.9" stroke="#000" stroke-width="1.9"/>
<rect x="400.5" y="839.8" width="37.6" height="0.8" fill="url(#dotb)" stroke="#000" stroke-width="1.8"/>
<line x1="399.1" y1="839.8" x2="439.5" y2="839.8" stroke="#000" stroke-width="1.9"/>
<line x1="518.75" y1="853.9" x2="518.75" y2="869" stroke="#000" stroke-width="1.8"/>
<line x1="508.85" y1="869" x2="528.65" y2="869" stroke="#000" stroke-width="1.8"/>
<rect x="500.3" y="840.6" width="36.9" height="13.3" fill="#000"/>
<line x1="498.9" y1="853.9" x2="538.6" y2="853.9" stroke="#000" stroke-width="1.9"/>
<line x1="579.15" y1="874.2" x2="579.15" y2="889.9" stroke="#000" stroke-width="1.8"/>
<line x1="569.25" y1="889.9" x2="589.05" y2="889.9" stroke="#000" stroke-width="1.8"/>
<rect x="561.2" y="840.6" width="35.9" height="33.6" fill="#f00" stroke="#000" stroke-width="1.8"/>
<line x1="559.8" y1="874.2" x2="598.5" y2="874.2" stroke="#000" stroke-width="1.9"/>
<line x1="638.55" y1="855.4" x2="638.55" y2="869" stroke="#000" stroke-width="1.8"/>
<line x1="628.65" y1="869" x2="648.45" y2="869" stroke="#000" stroke-width="1.8"/>
<rect x="620.4" y="840.6" width="36.3" height="14.8" fill="url(#chkb2)" stroke="#000" stroke-width="1.8"/>
<line x1="619" y1="855.4" x2="658.1" y2="855.4" stroke="#000" stroke-width="1.9"/>
<line x1="698" y1="843" x2="698" y2="858.5" stroke="#000" stroke-width="1.8"/>
<line x1="688.1" y1="858.5" x2="707.9" y2="858.5" stroke="#000" stroke-width="1.8"/>
<rect x="679.5" y="840.6" width="37" height="2.4" fill="url(#dotb)" stroke="#000" stroke-width="1.8"/>
<line x1="678.1" y1="843" x2="717.9" y2="843" stroke="#000" stroke-width="1.9"/>
<line x1="199.6" y1="840.6" x2="741.2" y2="840.6" stroke="#000" stroke-width="1.9"/>
<circle cx="228.8" cy="764.5" r="9.7" fill="#a0a0a5"/>
<circle cx="250" cy="766.2" r="9.7" fill="#a0a0a5"/>
<circle cx="239.5" cy="781.2" r="9.7" fill="#a0a0a5"/>
<circle cx="239.5" cy="850.5" r="9.7" fill="#a0a0a5"/>
<circle cx="288.8" cy="757.9" r="9.7" fill="#000"/>
<circle cx="310.2" cy="768.3" r="9.7" fill="#000"/>
<circle cx="288.8" cy="784.1" r="9.7" fill="#000"/>
<circle cx="288.8" cy="832.6" r="9.7" fill="#000"/>
<circle cx="310.2" cy="828.6" r="9.7" fill="#000"/>
<circle cx="288.8" cy="863.1" r="9.7" fill="#000"/>
<circle cx="310.2" cy="861" r="9.7" fill="#000"/>
<circle cx="359.3" cy="766" r="9.7" fill="#a0a0a5"/>
<circle cx="348.6" cy="804.1" r="9.7" fill="#a0a0a5"/>
<circle cx="370.2" cy="811" r="9.7" fill="#a0a0a5"/>
<circle cx="359.3" cy="844.5" r="9.7" fill="#a0a0a5"/>
<circle cx="419" cy="796.4" r="9.7" fill="#000"/>
<circle cx="419" cy="823.8" r="9.7" fill="#000"/>
<circle cx="413.6" cy="847.6" r="9.7" fill="#000"/>
<circle cx="424" cy="849.3" r="9.7" fill="#000"/>
<circle cx="408.1" cy="859.3" r="9.7" fill="#000"/>
<circle cx="429.7" cy="861.9" r="9.7" fill="#000"/>
<circle cx="419" cy="855" r="9.7" fill="#000"/>
<circle cx="518.6" cy="818.2" r="9.7" fill="#a0a0a5"/>
<circle cx="507.7" cy="859.8" r="9.7" fill="#a0a0a5"/>
<circle cx="529.3" cy="864.4" r="9.7" fill="#a0a0a5"/>
<circle cx="507.7" cy="880.9" r="9.7" fill="#a0a0a5"/>
<circle cx="573.1" cy="830.8" r="9.7" fill="#000"/>
<circle cx="584.1" cy="836.9" r="9.7" fill="#000"/>
<circle cx="578.6" cy="855.7" r="9.7" fill="#000"/>
<circle cx="578.6" cy="878.8" r="9.7" fill="#000"/>
<circle cx="578.6" cy="905.6" r="9.7" fill="#000"/>
<circle cx="589.3" cy="907.1" r="9.7" fill="#000"/>
<circle cx="568.1" cy="919.5" r="9.7" fill="#000"/>
<circle cx="627.7" cy="841.9" r="9.7" fill="#a0a0a5"/>
<circle cx="648.8" cy="839.1" r="9.7" fill="#a0a0a5"/>
<circle cx="638.3" cy="860.7" r="9.7" fill="#a0a0a5"/>
<circle cx="638.3" cy="888.4" r="9.7" fill="#a0a0a5"/>
<circle cx="697.8" cy="789.2" r="9.7" fill="#000"/>
<circle cx="694.2" cy="827.6" r="9.7" fill="#000"/>
<circle cx="709.8" cy="836" r="9.7" fill="#000"/>
<circle cx="687.3" cy="843.3" r="9.7" fill="#000"/>
<circle cx="702.1" cy="845.8" r="9.7" fill="#000"/>
<circle cx="697.9" cy="869" r="9.7" fill="#000"/>
<circle cx="697.8" cy="903.8" r="9.7" fill="#000"/>
<rect x="97.2" y="1108.3" width="38.8" height="22.4" fill="#000"/>
<text x="149" y="1128.4" font-size="32.4" text-anchor="start" fill="#000" transform="matrix(1,0,0,1.04,0,-45.14)">wildtype 30°C</text>
<rect x="98.7" y="1171.8" width="35.8" height="22.9" fill="#f00" stroke="#000" stroke-width="3"/>
<text x="149" y="1194.5" font-size="32" text-anchor="start" fill="#000" transform="matrix(1,0,0,1.04,0,-47.78)">TR<tspan font-family="'Liberation Serif', serif">α1</tspan>+m 30°C</text>
<g transform="translate(421,1104)"><rect x="0" y="0" width="48" height="24" fill="#000"/><rect x="3.8" y="4" width="7.4" height="7" fill="#fff"/><rect x="20.2" y="4" width="8.9" height="7" fill="#fff"/><rect x="39" y="4" width="5" height="7" fill="#fff"/><rect x="11.2" y="11" width="9" height="8.8" fill="#fff"/><rect x="29.1" y="11" width="9.9" height="8.8" fill="#fff"/></g>
<g transform="translate(421,1166)"><rect x="2" y="2" width="44" height="23.5" fill="#f00" stroke="#000" stroke-width="4"/><rect x="10.8" y="10.5" width="2.4" height="2.4"/><rect x="19.8" y="10.5" width="2.4" height="2.4"/><rect x="29" y="10.5" width="2.4" height="2.4"/><rect x="38.3" y="10.5" width="2.4" height="2.4"/><rect x="6.3" y="19.5" width="2.4" height="2.4"/><rect x="15.4" y="19.5" width="2.4" height="2.4"/><rect x="24.5" y="19.5" width="2.4" height="2.4"/><rect x="33.5" y="19.5" width="2.4" height="2.4"/><rect x="42.2" y="19.5" width="2" height="2.4"/></g>
<text x="483" y="1125.4" font-size="32.36" text-anchor="start" fill="#000" transform="matrix(1,0,0,1.04,0,-45.02)">wildtype 30°C + T3</text>
<text x="483" y="1190.2" font-size="32.22" text-anchor="start" fill="#000" transform="matrix(1,0,0,1.04,0,-47.61)">TRα1+m 30°C + T3</text>
<text x="881" y="590.4" font-size="38" text-anchor="start" font-weight="bold" fill="#000">c</text>
<line x1="1140.4" y1="657.2" x2="1140.4" y2="1020.8" stroke="#000" stroke-width="2"/>
<line x1="1126.3" y1="1019" x2="1140.4" y2="1019" stroke="#000" stroke-width="2"/>
<text x="1117.5" y="1030.2" font-size="31.4" text-anchor="end" fill="#000" transform="matrix(1,0,0,1.04,0,-41.21)">100</text>
<line x1="1126.3" y1="947.06" x2="1140.4" y2="947.06" stroke="#000" stroke-width="2"/>
<text x="1117.5" y="958.26" font-size="31.4" text-anchor="end" fill="#000" transform="matrix(1,0,0,1.04,0,-38.33)">200</text>
<line x1="1126.3" y1="875.12" x2="1140.4" y2="875.12" stroke="#000" stroke-width="2"/>
<text x="1117.5" y="886.32" font-size="31.4" text-anchor="end" fill="#000" transform="matrix(1,0,0,1.04,0,-35.45)">300</text>
<line x1="1126.3" y1="803.18" x2="1140.4" y2="803.18" stroke="#000" stroke-width="2"/>
<text x="1117.5" y="814.38" font-size="31.4" text-anchor="end" fill="#000" transform="matrix(1,0,0,1.04,0,-32.58)">400</text>
<line x1="1126.3" y1="731.24" x2="1140.4" y2="731.24" stroke="#000" stroke-width="2"/>
<text x="1117.5" y="742.44" font-size="31.4" text-anchor="end" fill="#000" transform="matrix(1,0,0,1.04,0,-29.7)">500</text>
<line x1="1126.3" y1="659.3" x2="1140.4" y2="659.3" stroke="#000" stroke-width="2"/>
<text x="1117.5" y="670.5" font-size="31.4" text-anchor="end" fill="#000" transform="matrix(1,0,0,1.04,0,-26.82)">600</text>
<line x1="1132.2" y1="983.03" x2="1140.4" y2="983.03" stroke="#000" stroke-width="2"/>
<line x1="1132.2" y1="911.09" x2="1140.4" y2="911.09" stroke="#000" stroke-width="2"/>
<line x1="1132.2" y1="839.15" x2="1140.4" y2="839.15" stroke="#000" stroke-width="2"/>
<line x1="1132.2" y1="767.21" x2="1140.4" y2="767.21" stroke="#000" stroke-width="2"/>
<line x1="1132.2" y1="695.27" x2="1140.4" y2="695.27" stroke="#000" stroke-width="2"/>
<line x1="1126.3" y1="1019" x2="1592.6" y2="1019" stroke="#000" stroke-width="2"/>
<text transform="translate(1031.3,837.8) rotate(-90) scale(1,1.04)" font-size="31.95" text-anchor="middle">Intrinsic heart rate (bpm)</text>
<text x="1250.5" y="1056.4" font-size="32.45" text-anchor="middle" fill="#000" transform="matrix(1,0,0,1.04,0,-42.26)">before T3</text>
<text x="1474.8" y="1056.4" font-size="32.4" text-anchor="middle" fill="#000" transform="matrix(1,0,0,1.04,0,-42.26)">after T3</text>
<defs><pattern id="chkc" patternUnits="userSpaceOnUse" x="1398.3" y="715.4" width="18.4" height="18.2"><rect width="18.4" height="18.2" fill="#fff"/><rect width="9.2" height="9.1" fill="#000"/><rect x="9.2" y="9.1" width="9.2" height="9.1" fill="#000"/></pattern><pattern id="dotc" patternUnits="userSpaceOnUse" x="1496.3" y="937.8" width="9.15" height="18.1"><rect width="9.15" height="18.1" fill="#f00"/><rect x="3.2" y="-1.3" width="2.6" height="2.6" fill="#000"/><rect x="-1.3" y="7.75" width="2.6" height="2.6" fill="#000"/><rect x="7.85" y="7.75" width="2.6" height="2.6" fill="#000"/><rect x="3.2" y="16.8" width="2.6" height="2.6" fill="#000"/></pattern></defs>
<line x1="1204.5" y1="758.4" x2="1204.5" y2="733.1" stroke="#000" stroke-width="1.8"/>
<line x1="1188.5" y1="733.1" x2="1220.5" y2="733.1" stroke="#000" stroke-width="1.8"/>
<rect x="1174.3" y="758.4" width="60.4" height="260.6" fill="#000"/>
<line x1="1172.7" y1="758.4" x2="1236.3" y2="758.4" stroke="#000" stroke-width="1.9"/>
<line x1="1300.8" y1="877.4" x2="1300.8" y2="863.6" stroke="#000" stroke-width="1.8"/>
<line x1="1284.8" y1="863.6" x2="1316.8" y2="863.6" stroke="#000" stroke-width="1.8"/>
<rect x="1270.9" y="877.4" width="59.8" height="141.6" fill="#f00" stroke="#000" stroke-width="1.5"/>
<line x1="1269.3" y1="877.4" x2="1332.3" y2="877.4" stroke="#000" stroke-width="1.9"/>
<line x1="1428.6" y1="714.9" x2="1428.6" y2="682.5" stroke="#000" stroke-width="1.8"/>
<line x1="1412.6" y1="682.5" x2="1444.6" y2="682.5" stroke="#000" stroke-width="1.8"/>
<rect x="1398.3" y="714.9" width="60.6" height="304.1" fill="url(#chkc)" stroke="#000" stroke-width="1.5"/>
<line x1="1396.7" y1="714.9" x2="1460.5" y2="714.9" stroke="#000" stroke-width="1.9"/>
<line x1="1525.05" y1="881.4" x2="1525.05" y2="859.1" stroke="#000" stroke-width="1.8"/>
<line x1="1509.05" y1="859.1" x2="1541.05" y2="859.1" stroke="#000" stroke-width="1.8"/>
<rect x="1495.2" y="881.4" width="59.7" height="137.6" fill="url(#dotc)" stroke="#000" stroke-width="1.5"/>
<line x1="1493.6" y1="881.4" x2="1556.5" y2="881.4" stroke="#000" stroke-width="1.9"/>
<line x1="1126.3" y1="1019" x2="1592.6" y2="1019" stroke="#000" stroke-width="2"/>
<circle cx="1204.3" cy="695.5" r="9.5" fill="#a0a0a5"/>
<circle cx="1204.3" cy="748.6" r="9.5" fill="#a0a0a5"/>
<circle cx="1204.3" cy="781" r="9.5" fill="#a0a0a5"/>
<circle cx="1204.3" cy="799.8" r="9.5" fill="#a0a0a5"/>
<circle cx="1300.5" cy="829.7" r="9.5" fill="#000"/>
<circle cx="1277.8" cy="858.1" r="9.5" fill="#000"/>
<circle cx="1300.5" cy="867.9" r="9.5" fill="#000"/>
<circle cx="1323.4" cy="864.7" r="9.5" fill="#000"/>
<circle cx="1323.4" cy="884" r="9.5" fill="#000"/>
<circle cx="1300.5" cy="895.2" r="9.5" fill="#000"/>
<circle cx="1300.5" cy="923.1" r="9.5" fill="#000"/>
<circle cx="1405.7" cy="662.3" r="9.5" fill="#a0a0a5"/>
<circle cx="1451.5" cy="660.2" r="9.5" fill="#a0a0a5"/>
<circle cx="1428.5" cy="751.4" r="9.5" fill="#a0a0a5"/>
<circle cx="1428.5" cy="776.6" r="9.5" fill="#a0a0a5"/>
<circle cx="1502.1" cy="808.5" r="9.5" fill="#000"/>
<circle cx="1547.7" cy="820" r="9.5" fill="#000"/>
<circle cx="1502.1" cy="874.5" r="9.5" fill="#000"/>
<circle cx="1547.7" cy="874.9" r="9.5" fill="#000"/>
<circle cx="1524.5" cy="895.4" r="9.5" fill="#000"/>
<circle cx="1524.5" cy="918.9" r="9.5" fill="#000"/>
<circle cx="1524.5" cy="964.2" r="9.5" fill="#000"/>
<text x="1300.2" y="728" font-size="40" text-anchor="middle" font-weight="bold" fill="#000">**</text>
<text x="1526.8" y="728" font-size="40" text-anchor="middle" font-weight="bold" fill="#000">****</text>
<rect x="965" y="1100.6" width="40.1" height="23.3" fill="#000"/>
<text x="1022.4" y="1121.1" font-size="32.4" text-anchor="start" fill="#000" transform="matrix(1,0,0,1.04,0,-44.84)">wildtype 30°C</text>
<rect x="966.5" y="1164.1" width="37.1" height="23" fill="#f00" stroke="#000" stroke-width="3"/>
<text x="1022" y="1184.9" font-size="32.1" text-anchor="start" fill="#000" transform="matrix(1,0,0,1.04,0,-47.4)">TRα1+m 30°C</text>
<g transform="translate(1289.5,1096.3)"><rect x="0" y="0" width="48" height="24" fill="#000"/><rect x="3.8" y="4" width="7.4" height="7" fill="#fff"/><rect x="20.2" y="4" width="8.9" height="7" fill="#fff"/><rect x="39" y="4" width="5" height="7" fill="#fff"/><rect x="11.2" y="11" width="9" height="8.8" fill="#fff"/><rect x="29.1" y="11" width="9.9" height="8.8" fill="#fff"/></g>
<g transform="translate(1289.5,1158)"><rect x="2" y="2" width="44" height="23.5" fill="#f00" stroke="#000" stroke-width="4"/><rect x="10.8" y="10.5" width="2.4" height="2.4"/><rect x="19.8" y="10.5" width="2.4" height="2.4"/><rect x="29" y="10.5" width="2.4" height="2.4"/><rect x="38.3" y="10.5" width="2.4" height="2.4"/><rect x="6.3" y="19.5" width="2.4" height="2.4"/><rect x="15.4" y="19.5" width="2.4" height="2.4"/><rect x="24.5" y="19.5" width="2.4" height="2.4"/><rect x="33.5" y="19.5" width="2.4" height="2.4"/><rect x="42.2" y="19.5" width="2" height="2.4"/></g>
<text x="1355.7" y="1117.5" font-size="32.36" text-anchor="start" fill="#000" transform="matrix(1,0,0,1.04,0,-44.7)">wildtype 30°C + T3</text>
<text x="1355.6" y="1182.6" font-size="32.22" text-anchor="start" fill="#000" transform="matrix(1,0,0,1.04,0,-47.3)">TRα1+m 30°C + T3</text>
<text x="-1" y="1283.8" font-size="38" text-anchor="start" font-weight="bold" fill="#000">d</text>
<text transform="translate(76,1545.4) rotate(-90) scale(1,1.04)" font-size="31.55" text-anchor="middle">Rel. heart rate frequency</text>
<line x1="161.7" y1="1357.2" x2="161.7" y2="1499.6" stroke="#000" stroke-width="1.8"/>
<line x1="155.1" y1="1498.6" x2="161.7" y2="1498.6" stroke="#000" stroke-width="1.8"/>
<line x1="155.1" y1="1463.25" x2="161.7" y2="1463.25" stroke="#000" stroke-width="1.8"/>
<line x1="155.1" y1="1427.9" x2="161.7" y2="1427.9" stroke="#000" stroke-width="1.8"/>
<line x1="155.1" y1="1392.55" x2="161.7" y2="1392.55" stroke="#000" stroke-width="1.8"/>
<line x1="155.1" y1="1357.2" x2="161.7" y2="1357.2" stroke="#000" stroke-width="1.8"/>
<line x1="155.1" y1="1498.6" x2="374" y2="1498.6" stroke="#000" stroke-width="1.8"/>
<line x1="214" y1="1498.6" x2="214" y2="1504.1" stroke="#000" stroke-width="1.8"/>
<line x1="320.1" y1="1498.6" x2="320.1" y2="1504.1" stroke="#000" stroke-width="1.8"/>
<text x="210.6" y="1532" font-size="25.3" text-anchor="middle" fill="#000" transform="matrix(1,0,0,1.04,0,-61.28)">450</text>
<text x="320.5" y="1532" font-size="25.3" text-anchor="middle" fill="#000" transform="matrix(1,0,0,1.04,0,-61.28)">450</text>
<text x="255" y="1334.9" font-size="31.4" text-anchor="middle" fill="#000" transform="matrix(1,0,0,1.04,0,-53.4)">T3 - day 1</text>
<text x="148.9" y="1507.5" font-size="25.5" text-anchor="end" fill="#000" transform="matrix(1,0,0,1.04,0,-60.3)">0.00</text>
<text x="148.9" y="1472.15" font-size="25.5" text-anchor="end" fill="#000" transform="matrix(1,0,0,1.04,0,-58.89)">0.05</text>
<text x="148.9" y="1436.8" font-size="25.5" text-anchor="end" fill="#000" transform="matrix(1,0,0,1.04,0,-57.47)">0.10</text>
<text x="148.9" y="1401.45" font-size="25.5" text-anchor="end" fill="#000" transform="matrix(1,0,0,1.04,0,-56.06)">0.15</text>
<text x="148.9" y="1366.1" font-size="25.5" text-anchor="end" fill="#000" transform="matrix(1,0,0,1.04,0,-54.64)">0.20</text>
<path d="M185.18,1498.6v-3.44h2.46v3.44zM188.05,1498.6v-15.46h2.46v15.46zM190.91,1498.6v-33.02h2.46v33.02zM193.77,1498.6v-45.43h2.46v45.43zM196.63,1498.6v-61.65h2.46v61.65zM199.5,1498.6v-62.61h2.46v62.61zM202.36,1498.6v-73.68h2.46v73.68zM205.22,1498.6v-85.89h2.46v85.89zM208.09,1498.6v-78.45h2.46v78.45zM210.95,1498.6v-60.7h2.46v60.7zM213.81,1498.6v-49.63h2.46v49.63zM216.68,1498.6v-43.33h2.46v43.33zM219.54,1498.6v-23.48h2.46v23.48zM222.4,1498.6v-19.66h2.46v19.66zM225.27,1498.6v-11.64h2.46v11.64zM228.13,1498.6v-8.21h2.46v8.21zM230.99,1498.6v-5.34h2.46v5.34zM233.86,1498.6v-3.05h2.46v3.05zM236.72,1498.6v-0.95h2.46v0.95z" fill="#111"/>
<path d="M277.38,1498.6v-3.44h2.46v3.44zM280.24,1498.6v-3.44h2.46v3.44zM283.1,1498.6v-11.07h2.46v11.07zM285.96,1498.6v-19.66h2.46v19.66zM288.83,1498.6v-28.63h2.46v28.63zM291.69,1498.6v-71.58h2.46v71.58zM294.55,1498.6v-109.37h2.46v109.37zM297.42,1498.6v-132.66h2.46v132.66zM300.28,1498.6v-108.42h2.46v108.42zM303.14,1498.6v-75.01h2.46v75.01zM306.01,1498.6v-44.09h2.46v44.09zM308.87,1498.6v-33.98h2.46v33.98zM311.73,1498.6v-25.39h2.46v25.39zM314.6,1498.6v-14.32h2.46v14.32zM317.46,1498.6v-4.77h2.46v4.77zM320.32,1498.6v-1.53h2.46v1.53zM323.19,1498.6v-0.57h2.46v0.57z" fill="#f00"/>
<line x1="409.6" y1="1357" x2="409.6" y2="1500.9" stroke="#000" stroke-width="1.8"/>
<line x1="403" y1="1499.9" x2="409.6" y2="1499.9" stroke="#000" stroke-width="1.8"/>
<line x1="403" y1="1464.18" x2="409.6" y2="1464.18" stroke="#000" stroke-width="1.8"/>
<line x1="403" y1="1428.45" x2="409.6" y2="1428.45" stroke="#000" stroke-width="1.8"/>
<line x1="403" y1="1392.72" x2="409.6" y2="1392.72" stroke="#000" stroke-width="1.8"/>
<line x1="403" y1="1357" x2="409.6" y2="1357" stroke="#000" stroke-width="1.8"/>
<line x1="403" y1="1499.9" x2="625.3" y2="1499.9" stroke="#000" stroke-width="1.8"/>
<line x1="463.7" y1="1499.9" x2="463.7" y2="1505.4" stroke="#000" stroke-width="1.8"/>
<line x1="571.1" y1="1499.9" x2="571.1" y2="1505.4" stroke="#000" stroke-width="1.8"/>
<text x="463.05" y="1532" font-size="25.3" text-anchor="middle" fill="#000" transform="matrix(1,0,0,1.04,0,-61.28)">450</text>
<text x="573.2" y="1532" font-size="25.3" text-anchor="middle" fill="#000" transform="matrix(1,0,0,1.04,0,-61.28)">450</text>
<text x="505.6" y="1334.9" font-size="31.4" text-anchor="middle" fill="#000" transform="matrix(1,0,0,1.04,0,-53.4)">T3 - day 2</text>
<path d="M433.8,1499.9v-1.38h2.56v1.38zM436.75,1499.9v-4.93h2.56v4.93zM439.71,1499.9v-15.37h2.56v15.37zM442.66,1499.9v-32.51h2.56v32.51zM445.62,1499.9v-44.33h2.56v44.33zM448.57,1499.9v-61.08h2.56v61.08zM451.53,1499.9v-67.59h2.56v67.59zM454.49,1499.9v-84.33h2.56v84.33zM457.44,1499.9v-66.01h2.56v66.01zM460.4,1499.9v-69.36h2.56v69.36zM463.35,1499.9v-57.73h2.56v57.73zM466.31,1499.9v-54.78h2.56v54.78zM469.26,1499.9v-34.88h2.56v34.88zM472.22,1499.9v-28.18h2.56v28.18zM475.18,1499.9v-20.69h2.56v20.69zM478.13,1499.9v-14.38h2.56v14.38zM481.09,1499.9v-8.87h2.56v8.87zM484.04,1499.9v-6.9h2.56v6.9zM487,1499.9v-3.55h2.56v3.55zM489.95,1499.9v-1.97h2.56v1.97zM492.91,1499.9v-2.36h2.56v2.36zM495.87,1499.9v-0.39h2.56v0.39z" fill="#111"/>
<path d="M527.39,1499.9v-6.9h2.56v6.9zM530.35,1499.9v-10.44h2.56v10.44zM533.3,1499.9v-13.79h2.56v13.79zM536.26,1499.9v-22.66h2.56v22.66zM539.21,1499.9v-48.28h2.56v48.28zM542.17,1499.9v-74.88h2.56v74.88zM545.13,1499.9v-113.89h2.56v113.89zM548.08,1499.9v-114.68h2.56v114.68zM551.04,1499.9v-98.92h2.56v98.92zM553.99,1499.9v-60.69h2.56v60.69zM556.95,1499.9v-46.7h2.56v46.7zM559.9,1499.9v-31.13h2.56v31.13zM562.86,1499.9v-18.33h2.56v18.33zM565.82,1499.9v-11.82h2.56v11.82zM568.77,1499.9v-8.47h2.56v8.47zM571.73,1499.9v-4.53h2.56v4.53zM574.68,1499.9v-3.55h2.56v3.55zM577.64,1499.9v-0.59h2.56v0.59z" fill="#f00"/>
<line x1="653.6" y1="1356" x2="653.6" y2="1500.3" stroke="#000" stroke-width="1.8"/>
<line x1="647" y1="1499.3" x2="653.6" y2="1499.3" stroke="#000" stroke-width="1.8"/>
<line x1="647" y1="1463.47" x2="653.6" y2="1463.47" stroke="#000" stroke-width="1.8"/>
<line x1="647" y1="1427.65" x2="653.6" y2="1427.65" stroke="#000" stroke-width="1.8"/>
<line x1="647" y1="1391.83" x2="653.6" y2="1391.83" stroke="#000" stroke-width="1.8"/>
<line x1="647" y1="1356" x2="653.6" y2="1356" stroke="#000" stroke-width="1.8"/>
<line x1="647" y1="1499.3" x2="869.4" y2="1499.3" stroke="#000" stroke-width="1.8"/>
<line x1="707.2" y1="1499.3" x2="707.2" y2="1504.8" stroke="#000" stroke-width="1.8"/>
<line x1="815.2" y1="1499.3" x2="815.2" y2="1504.8" stroke="#000" stroke-width="1.8"/>
<text x="704.6" y="1532" font-size="25.3" text-anchor="middle" fill="#000" transform="matrix(1,0,0,1.04,0,-61.28)">450</text>
<text x="814.7" y="1532" font-size="25.3" text-anchor="middle" fill="#000" transform="matrix(1,0,0,1.04,0,-61.28)">450</text>
<text x="753.9" y="1334.9" font-size="31.4" text-anchor="middle" fill="#000" transform="matrix(1,0,0,1.04,0,-53.4)">T3 - day 3</text>
<path d="M681.43,1499.3v-2.36h2.56v2.36zM684.39,1499.3v-6.31h2.56v6.31zM687.34,1499.3v-15.76h2.56v15.76zM690.3,1499.3v-26.4h2.56v26.4zM693.25,1499.3v-43.15h2.56v43.15zM696.21,1499.3v-53.6h2.56v53.6zM699.17,1499.3v-67h2.56v67zM702.12,1499.3v-68.37h2.56v68.37zM705.08,1499.3v-71.92h2.56v71.92zM708.03,1499.3v-61.87h2.56v61.87zM710.99,1499.3v-53.99h2.56v53.99zM713.94,1499.3v-48.28h2.56v48.28zM716.9,1499.3v-42.76h2.56v42.76zM719.86,1499.3v-30.34h2.56v30.34zM722.81,1499.3v-23.05h2.56v23.05zM725.77,1499.3v-19.11h2.56v19.11zM728.72,1499.3v-16.16h2.56v16.16zM731.68,1499.3v-12.22h2.56v12.22zM734.63,1499.3v-7.88h2.56v7.88zM737.59,1499.3v-7.29h2.56v7.29zM740.54,1499.3v-5.91h2.56v5.91zM743.5,1499.3v-2.76h2.56v2.76z" fill="#111"/>
<path d="M769.12,1499.3v-1.38h2.56v1.38zM772.07,1499.3v-6.31h2.56v6.31zM775.03,1499.3v-8.67h2.56v8.67zM777.98,1499.3v-20.1h2.56v20.1zM780.94,1499.3v-28.97h2.56v28.97zM783.89,1499.3v-35.27h2.56v35.27zM786.85,1499.3v-65.02h2.56v65.02zM789.81,1499.3v-110.74h2.56v110.74zM792.76,1499.3v-96.95h2.56v96.95zM795.72,1499.3v-73.89h2.56v73.89zM798.67,1499.3v-61.87h2.56v61.87zM801.63,1499.3v-51.63h2.56v51.63zM804.58,1499.3v-44.14h2.56v44.14zM807.54,1499.3v-27.98h2.56v27.98zM810.5,1499.3v-23.05h2.56v23.05zM813.45,1499.3v-11.23h2.56v11.23zM816.41,1499.3v-6.31h2.56v6.31zM819.36,1499.3v-5.91h2.56v5.91zM822.32,1499.3v-3.35h2.56v3.35zM825.27,1499.3v-1.97h2.56v1.97zM828.23,1499.3v-0.79h2.56v0.79zM831.19,1499.3v-0.79h2.56v0.79z" fill="#f00"/>
<line x1="895.2" y1="1356" x2="895.2" y2="1499.9" stroke="#000" stroke-width="1.8"/>
<line x1="888.6" y1="1498.9" x2="895.2" y2="1498.9" stroke="#000" stroke-width="1.8"/>
<line x1="888.6" y1="1463.18" x2="895.2" y2="1463.18" stroke="#000" stroke-width="1.8"/>
<line x1="888.6" y1="1427.45" x2="895.2" y2="1427.45" stroke="#000" stroke-width="1.8"/>
<line x1="888.6" y1="1391.72" x2="895.2" y2="1391.72" stroke="#000" stroke-width="1.8"/>
<line x1="888.6" y1="1356" x2="895.2" y2="1356" stroke="#000" stroke-width="1.8"/>
<line x1="888.6" y1="1498.9" x2="1110.9" y2="1498.9" stroke="#000" stroke-width="1.8"/>
<line x1="948.4" y1="1498.9" x2="948.4" y2="1504.4" stroke="#000" stroke-width="1.8"/>
<line x1="1056.7" y1="1498.9" x2="1056.7" y2="1504.4" stroke="#000" stroke-width="1.8"/>
<text x="947.8" y="1532" font-size="25.3" text-anchor="middle" fill="#000" transform="matrix(1,0,0,1.04,0,-61.28)">450</text>
<text x="1057.8" y="1532" font-size="25.3" text-anchor="middle" fill="#000" transform="matrix(1,0,0,1.04,0,-61.28)">450</text>
<text x="995.5" y="1334.9" font-size="31.4" text-anchor="middle" fill="#000" transform="matrix(1,0,0,1.04,0,-53.4)">T3 - day 4</text>
<path d="M919.61,1498.9v-0.99h2.56v0.99zM922.56,1498.9v-3.55h2.56v3.55zM925.52,1498.9v-5.91h2.56v5.91zM928.48,1498.9v-12.41h2.56v12.41zM931.43,1498.9v-23.25h2.56v23.25zM934.39,1498.9v-29.56h2.56v29.56zM937.34,1498.9v-42.36h2.56v42.36zM940.3,1498.9v-54.19h2.56v54.19zM943.25,1498.9v-67h2.56v67zM946.21,1498.9v-63.65h2.56v63.65zM949.17,1498.9v-61.48h2.56v61.48zM952.12,1498.9v-49.66h2.56v49.66zM955.08,1498.9v-49.26h2.56v49.26zM958.03,1498.9v-48.67h2.56v48.67zM960.99,1498.9v-35.47h2.56v35.47zM963.94,1498.9v-35.47h2.56v35.47zM966.9,1498.9v-28.57h2.56v28.57zM969.86,1498.9v-25.62h2.56v25.62zM972.81,1498.9v-16.75h2.56v16.75zM975.77,1498.9v-9.85h2.56v9.85zM978.72,1498.9v-10.44h2.56v10.44zM981.68,1498.9v-5.52h2.56v5.52zM984.63,1498.9v-3.55h2.56v3.55zM987.59,1498.9v-0.99h2.56v0.99z" fill="#111"/>
<path d="M1013.2,1498.9v-0.99h2.56v0.99zM1016.16,1498.9v-8.47h2.56v8.47zM1019.12,1498.9v-17.73h2.56v17.73zM1022.07,1498.9v-30.94h2.56v30.94zM1025.03,1498.9v-49.26h2.56v49.26zM1027.98,1498.9v-68.37h2.56v68.37zM1030.94,1498.9v-83.74h2.56v83.74zM1033.89,1498.9v-84.33h2.56v84.33zM1036.85,1498.9v-74.48h2.56v74.48zM1039.81,1498.9v-62.66h2.56v62.66zM1042.76,1498.9v-47.68h2.56v47.68zM1045.72,1498.9v-48.67h2.56v48.67zM1048.67,1498.9v-34.88h2.56v34.88zM1051.63,1498.9v-25.62h2.56v25.62zM1054.58,1498.9v-16.75h2.56v16.75zM1057.54,1498.9v-11.82h2.56v11.82zM1060.5,1498.9v-8.47h2.56v8.47zM1063.45,1498.9v-6.9h2.56v6.9zM1066.41,1498.9v-4.53h2.56v4.53zM1069.36,1498.9v-1.58h2.56v1.58zM1072.32,1498.9v-0.99h2.56v0.99zM1075.27,1498.9v-0.39h2.56v0.39z" fill="#f00"/>
<line x1="1138.3" y1="1356" x2="1138.3" y2="1499.5" stroke="#000" stroke-width="1.8"/>
<line x1="1131.7" y1="1498.5" x2="1138.3" y2="1498.5" stroke="#000" stroke-width="1.8"/>
<line x1="1131.7" y1="1462.88" x2="1138.3" y2="1462.88" stroke="#000" stroke-width="1.8"/>
<line x1="1131.7" y1="1427.25" x2="1138.3" y2="1427.25" stroke="#000" stroke-width="1.8"/>
<line x1="1131.7" y1="1391.62" x2="1138.3" y2="1391.62" stroke="#000" stroke-width="1.8"/>
<line x1="1131.7" y1="1356" x2="1138.3" y2="1356" stroke="#000" stroke-width="1.8"/>
<line x1="1131.7" y1="1498.5" x2="1354.1" y2="1498.5" stroke="#000" stroke-width="1.8"/>
<line x1="1191.5" y1="1498.5" x2="1191.5" y2="1504" stroke="#000" stroke-width="1.8"/>
<line x1="1299.7" y1="1498.5" x2="1299.7" y2="1504" stroke="#000" stroke-width="1.8"/>
<text x="1188.5" y="1532" font-size="25.3" text-anchor="middle" fill="#000" transform="matrix(1,0,0,1.04,0,-61.28)">450</text>
<text x="1298.8" y="1532" font-size="25.3" text-anchor="middle" fill="#000" transform="matrix(1,0,0,1.04,0,-61.28)">450</text>
<text x="1240.3" y="1334.9" font-size="31.4" text-anchor="middle" fill="#000" transform="matrix(1,0,0,1.04,0,-53.4)">T3 - day 5</text>
<path d="M1168.48,1498.5v-1.97h2.56v1.97zM1171.43,1498.5v-8.08h2.56v8.08zM1174.39,1498.5v-16.35h2.56v16.35zM1177.34,1498.5v-28.18h2.56v28.18zM1180.3,1498.5v-41.58h2.56v41.58zM1183.25,1498.5v-63.25h2.56v63.25zM1186.21,1498.5v-64.04h2.56v64.04zM1189.17,1498.5v-67.59h2.56v67.59zM1192.12,1498.5v-66.6h2.56v66.6zM1195.08,1498.5v-58.33h2.56v58.33zM1198.03,1498.5v-56.35h2.56v56.35zM1200.99,1498.5v-44.33h2.56v44.33zM1203.94,1498.5v-41.38h2.56v41.38zM1206.9,1498.5v-29.75h2.56v29.75zM1209.86,1498.5v-23.25h2.56v23.25zM1212.81,1498.5v-21.87h2.56v21.87zM1215.77,1498.5v-14.38h2.56v14.38zM1218.72,1498.5v-7.09h2.56v7.09zM1221.68,1498.5v-8.47h2.56v8.47zM1224.63,1498.5v-6.5h2.56v6.5zM1227.59,1498.5v-5.12h2.56v5.12zM1230.54,1498.5v-0.59h2.56v0.59z" fill="#111"/>
<path d="M1256.16,1498.5v-0.59h2.56v0.59zM1259.12,1498.5v-6.5h2.56v6.5zM1262.07,1498.5v-20.3h2.56v20.3zM1265.03,1498.5v-26.8h2.56v26.8zM1267.98,1498.5v-47.29h2.56v47.29zM1270.94,1498.5v-67.98h2.56v67.98zM1273.89,1498.5v-80.99h2.56v80.99zM1276.85,1498.5v-83.94h2.56v83.94zM1279.81,1498.5v-68.97h2.56v68.97zM1282.76,1498.5v-48.87h2.56v48.87zM1285.72,1498.5v-37.64h2.56v37.64zM1288.67,1498.5v-37.04h2.56v37.04zM1291.63,1498.5v-35.07h2.56v35.07zM1294.58,1498.5v-37.64h2.56v37.64zM1297.54,1498.5v-25.81h2.56v25.81zM1300.5,1498.5v-19.31h2.56v19.31zM1303.45,1498.5v-12.02h2.56v12.02zM1306.41,1498.5v-8.87h2.56v8.87zM1309.36,1498.5v-3.55h2.56v3.55zM1312.32,1498.5v-4.14h2.56v4.14zM1315.27,1498.5v-1.97h2.56v1.97zM1318.23,1498.5v-0.99h2.56v0.99zM1321.19,1498.5v-0.39h2.56v0.39z" fill="#f00"/>
<line x1="1379.1" y1="1356.5" x2="1379.1" y2="1500.5" stroke="#000" stroke-width="1.8"/>
<line x1="1372.5" y1="1499.5" x2="1379.1" y2="1499.5" stroke="#000" stroke-width="1.8"/>
<line x1="1372.5" y1="1463.75" x2="1379.1" y2="1463.75" stroke="#000" stroke-width="1.8"/>
<line x1="1372.5" y1="1428" x2="1379.1" y2="1428" stroke="#000" stroke-width="1.8"/>
<line x1="1372.5" y1="1392.25" x2="1379.1" y2="1392.25" stroke="#000" stroke-width="1.8"/>
<line x1="1372.5" y1="1356.5" x2="1379.1" y2="1356.5" stroke="#000" stroke-width="1.8"/>
<line x1="1372.5" y1="1499.5" x2="1595.1" y2="1499.5" stroke="#000" stroke-width="1.8"/>
<line x1="1432.9" y1="1499.5" x2="1432.9" y2="1505" stroke="#000" stroke-width="1.8"/>
<line x1="1540.7" y1="1499.5" x2="1540.7" y2="1505" stroke="#000" stroke-width="1.8"/>
<text x="1431.9" y="1532" font-size="25.3" text-anchor="middle" fill="#000" transform="matrix(1,0,0,1.04,0,-61.28)">450</text>
<text x="1542" y="1532" font-size="25.3" text-anchor="middle" fill="#000" transform="matrix(1,0,0,1.04,0,-61.28)">450</text>
<text x="1480.3" y="1334.9" font-size="31.4" text-anchor="middle" fill="#000" transform="matrix(1,0,0,1.04,0,-53.4)">T3 - day 6</text>
<path d="M1409.46,1499.5v-4.93h2.56v4.93zM1412.42,1499.5v-8.08h2.56v8.08zM1415.37,1499.5v-15.37h2.56v15.37zM1418.33,1499.5v-26.6h2.56v26.6zM1421.28,1499.5v-37.04h2.56v37.04zM1424.24,1499.5v-46.31h2.56v46.31zM1427.2,1499.5v-55.17h2.56v55.17zM1430.15,1499.5v-58.33h2.56v58.33zM1433.11,1499.5v-63.65h2.56v63.65zM1436.06,1499.5v-53.4h2.56v53.4zM1439.02,1499.5v-58.33h2.56v58.33zM1441.97,1499.5v-55.76h2.56v55.76zM1444.93,1499.5v-45.91h2.56v45.91zM1447.88,1499.5v-39.01h2.56v39.01zM1450.84,1499.5v-33.1h2.56v33.1zM1453.8,1499.5v-25.62h2.56v25.62zM1456.75,1499.5v-20.3h2.56v20.3zM1459.71,1499.5v-13.79h2.56v13.79zM1462.66,1499.5v-13h2.56v13zM1465.62,1499.5v-6.5h2.56v6.5zM1468.57,1499.5v-3.15h2.56v3.15zM1471.53,1499.5v-1.97h2.56v1.97z" fill="#111"/>
<path d="M1500.1,1499.5v-2.96h2.56v2.96zM1503.06,1499.5v-15.37h2.56v15.37zM1506.01,1499.5v-23.25h2.56v23.25zM1508.97,1499.5v-45.32h2.56v45.32zM1511.92,1499.5v-71.13h2.56v71.13zM1514.88,1499.5v-88.87h2.56v88.87zM1517.84,1499.5v-76.85h2.56v76.85zM1520.79,1499.5v-66.21h2.56v66.21zM1523.75,1499.5v-47.49h2.56v47.49zM1526.7,1499.5v-42.36h2.56v42.36zM1529.66,1499.5v-34.68h2.56v34.68zM1532.61,1499.5v-34.68h2.56v34.68zM1535.57,1499.5v-36.45h2.56v36.45zM1538.53,1499.5v-32.71h2.56v32.71zM1541.48,1499.5v-25.62h2.56v25.62zM1544.44,1499.5v-18.92h2.56v18.92zM1547.39,1499.5v-12.41h2.56v12.41zM1550.35,1499.5v-5.52h2.56v5.52zM1553.3,1499.5v-5.12h2.56v5.12zM1556.26,1499.5v-2.17h2.56v2.17zM1559.21,1499.5v-1.18h2.56v1.18z" fill="#f00"/>
<line x1="164.3" y1="1599.1" x2="164.3" y2="1743.4" stroke="#000" stroke-width="1.8"/>
<line x1="157.7" y1="1742.4" x2="164.3" y2="1742.4" stroke="#000" stroke-width="1.8"/>
<line x1="157.7" y1="1706.58" x2="164.3" y2="1706.58" stroke="#000" stroke-width="1.8"/>
<line x1="157.7" y1="1670.75" x2="164.3" y2="1670.75" stroke="#000" stroke-width="1.8"/>
<line x1="157.7" y1="1634.92" x2="164.3" y2="1634.92" stroke="#000" stroke-width="1.8"/>
<line x1="157.7" y1="1599.1" x2="164.3" y2="1599.1" stroke="#000" stroke-width="1.8"/>
<line x1="157.7" y1="1742.4" x2="380.9" y2="1742.4" stroke="#000" stroke-width="1.8"/>
<line x1="217.9" y1="1742.4" x2="217.9" y2="1747.9" stroke="#000" stroke-width="1.8"/>
<line x1="326.3" y1="1742.4" x2="326.3" y2="1747.9" stroke="#000" stroke-width="1.8"/>
<text x="210.5" y="1778.8" font-size="25.3" text-anchor="middle" fill="#000" transform="matrix(1,0,0,1.04,0,-71.15)">450</text>
<text x="320.9" y="1778.8" font-size="25.3" text-anchor="middle" fill="#000" transform="matrix(1,0,0,1.04,0,-71.15)">450</text>
<text x="256.9" y="1592.8" font-size="31.4" text-anchor="middle" fill="#000" transform="matrix(1,0,0,1.04,0,-63.71)">T3 - day 7</text>
<text x="148.9" y="1751.3" font-size="25.5" text-anchor="end" fill="#000" transform="matrix(1,0,0,1.04,0,-70.05)">0.00</text>
<text x="148.9" y="1715.48" font-size="25.5" text-anchor="end" fill="#000" transform="matrix(1,0,0,1.04,0,-68.62)">0.05</text>
<text x="148.9" y="1679.65" font-size="25.5" text-anchor="end" fill="#000" transform="matrix(1,0,0,1.04,0,-67.19)">0.10</text>
<text x="148.9" y="1643.83" font-size="25.5" text-anchor="end" fill="#000" transform="matrix(1,0,0,1.04,0,-65.75)">0.15</text>
<text x="148.9" y="1608" font-size="25.5" text-anchor="end" fill="#000" transform="matrix(1,0,0,1.04,0,-64.32)">0.20</text>
<path d="M186.6,1742.4v-0.99h2.56v0.99zM189.56,1742.4v-1.77h2.56v1.77zM192.52,1742.4v-3.35h2.56v3.35zM195.47,1742.4v-3.35h2.56v3.35zM198.43,1742.4v-8.28h2.56v8.28zM201.38,1742.4v-12.22h2.56v12.22zM204.34,1742.4v-23.05h2.56v23.05zM207.29,1742.4v-25.42h2.56v25.42zM210.25,1742.4v-45.32h2.56v45.32zM213.2,1742.4v-47.68h2.56v47.68zM216.16,1742.4v-47.68h2.56v47.68zM219.12,1742.4v-54.98h2.56v54.98zM222.07,1742.4v-58.52h2.56v58.52zM225.03,1742.4v-60.89h2.56v60.89zM227.98,1742.4v-51.63h2.56v51.63zM230.94,1742.4v-47.29h2.56v47.29zM233.89,1742.4v-44.14h2.56v44.14zM236.85,1742.4v-35.47h2.56v35.47zM239.81,1742.4v-27.39h2.56v27.39zM242.76,1742.4v-25.02h2.56v25.02zM245.72,1742.4v-22.66h2.56v22.66zM248.67,1742.4v-12.81h2.56v12.81zM251.63,1742.4v-13.2h2.56v13.2zM254.58,1742.4v-7.29h2.56v7.29zM257.54,1742.4v-0.99h2.56v0.99z" fill="#111"/>
<path d="M282.56,1742.4v-2.96h2.56v2.96zM285.52,1742.4v-6.9h2.56v6.9zM288.48,1742.4v-15.17h2.56v15.17zM291.43,1742.4v-28.97h2.56v28.97zM294.39,1742.4v-40.2h2.56v40.2zM297.34,1742.4v-67.98h2.56v67.98zM300.3,1742.4v-80.2h2.56v80.2zM303.25,1742.4v-74.29h2.56v74.29zM306.21,1742.4v-60.89h2.56v60.89zM309.17,1742.4v-47.09h2.56v47.09zM312.12,1742.4v-39.21h2.56v39.21zM315.08,1742.4v-36.26h2.56v36.26zM318.03,1742.4v-41.18h2.56v41.18zM320.99,1742.4v-50.25h2.56v50.25zM323.94,1742.4v-37.44h2.56v37.44zM326.9,1742.4v-23.65h2.56v23.65zM329.86,1742.4v-14.78h2.56v14.78zM332.81,1742.4v-7.68h2.56v7.68zM335.77,1742.4v-4.73h2.56v4.73zM338.72,1742.4v-2.36h2.56v2.36zM341.68,1742.4v-0.79h2.56v0.79zM344.63,1742.4v-0.59h2.56v0.59z" fill="#f00"/>
<line x1="413.5" y1="1598.7" x2="413.5" y2="1743" stroke="#000" stroke-width="1.8"/>
<line x1="406.9" y1="1742" x2="413.5" y2="1742" stroke="#000" stroke-width="1.8"/>
<line x1="406.9" y1="1706.17" x2="413.5" y2="1706.17" stroke="#000" stroke-width="1.8"/>
<line x1="406.9" y1="1670.35" x2="413.5" y2="1670.35" stroke="#000" stroke-width="1.8"/>
<line x1="406.9" y1="1634.53" x2="413.5" y2="1634.53" stroke="#000" stroke-width="1.8"/>
<line x1="406.9" y1="1598.7" x2="413.5" y2="1598.7" stroke="#000" stroke-width="1.8"/>
<line x1="406.9" y1="1742" x2="629.9" y2="1742" stroke="#000" stroke-width="1.8"/>
<line x1="467.1" y1="1742" x2="467.1" y2="1747.5" stroke="#000" stroke-width="1.8"/>
<line x1="575.5" y1="1742" x2="575.5" y2="1747.5" stroke="#000" stroke-width="1.8"/>
<text x="463" y="1778.8" font-size="25.3" text-anchor="middle" fill="#000" transform="matrix(1,0,0,1.04,0,-71.15)">450</text>
<text x="573.2" y="1778.8" font-size="25.3" text-anchor="middle" fill="#000" transform="matrix(1,0,0,1.04,0,-71.15)">450</text>
<text x="517.7" y="1592.8" font-size="31.4" text-anchor="middle" fill="#000" transform="matrix(1,0,0,1.04,0,-63.71)">T3 - day 8</text>
<path d="M444.24,1742v-3.94h2.56v3.94zM447.2,1742v-6.5h2.56v6.5zM450.15,1742v-13.2h2.56v13.2zM453.11,1742v-18.33h2.56v18.33zM456.06,1742v-25.62h2.56v25.62zM459.02,1742v-38.82h2.56v38.82zM461.97,1742v-40.79h2.56v40.79zM464.93,1742v-53.79h2.56v53.79zM467.88,1742v-53.79h2.56v53.79zM470.84,1742v-64.04h2.56v64.04zM473.8,1742v-63.65h2.56v63.65zM476.75,1742v-54.19h2.56v54.19zM479.71,1742v-50.64h2.56v50.64zM482.66,1742v-41.38h2.56v41.38zM485.62,1742v-38.03h2.56v38.03zM488.57,1742v-30.54h2.56v30.54zM491.53,1742v-22.27h2.56v22.27zM494.49,1742v-21.08h2.56v21.08zM497.44,1742v-17.34h2.56v17.34zM500.4,1742v-13.79h2.56v13.79zM503.35,1742v-8.47h2.56v8.47zM506.31,1742v-5.91h2.56v5.91zM509.26,1742v-0.99h2.56v0.99z" fill="#111"/>
<path d="M531.53,1742v-4.33h2.56v4.33zM534.49,1742v-7.88h2.56v7.88zM537.44,1742v-14.19h2.56v14.19zM540.4,1742v-27.19h2.56v27.19zM543.35,1742v-49.85h2.56v49.85zM546.31,1742v-71.53h2.56v71.53zM549.26,1742v-88.08h2.56v88.08zM552.22,1742v-79.8h2.56v79.8zM555.18,1742v-50.25h2.56v50.25zM558.13,1742v-50.25h2.56v50.25zM561.09,1742v-36.85h2.56v36.85zM564.04,1742v-38.82h2.56v38.82zM567,1742v-45.71h2.56v45.71zM569.95,1742v-39.41h2.56v39.41zM572.91,1742v-24.63h2.56v24.63zM575.87,1742v-22.07h2.56v22.07zM578.82,1742v-14.19h2.56v14.19zM581.78,1742v-10.25h2.56v10.25zM584.73,1742v-6.5h2.56v6.5zM587.69,1742v-5.52h2.56v5.52zM590.64,1742v-2.96h2.56v2.96zM593.6,1742v-1.38h2.56v1.38zM596.55,1742v-0.99h2.56v0.99z" fill="#f00"/>
<line x1="660" y1="1599.7" x2="660" y2="1744" stroke="#000" stroke-width="1.8"/>
<line x1="653.4" y1="1743" x2="660" y2="1743" stroke="#000" stroke-width="1.8"/>
<line x1="653.4" y1="1707.17" x2="660" y2="1707.17" stroke="#000" stroke-width="1.8"/>
<line x1="653.4" y1="1671.35" x2="660" y2="1671.35" stroke="#000" stroke-width="1.8"/>
<line x1="653.4" y1="1635.53" x2="660" y2="1635.53" stroke="#000" stroke-width="1.8"/>
<line x1="653.4" y1="1599.7" x2="660" y2="1599.7" stroke="#000" stroke-width="1.8"/>
<line x1="653.4" y1="1743" x2="875.9" y2="1743" stroke="#000" stroke-width="1.8"/>
<line x1="713.7" y1="1743" x2="713.7" y2="1748.5" stroke="#000" stroke-width="1.8"/>
<line x1="821.7" y1="1743" x2="821.7" y2="1748.5" stroke="#000" stroke-width="1.8"/>
<text x="704.6" y="1778.8" font-size="25.3" text-anchor="middle" fill="#000" transform="matrix(1,0,0,1.04,0,-71.15)">450</text>
<text x="814.7" y="1778.8" font-size="25.3" text-anchor="middle" fill="#000" transform="matrix(1,0,0,1.04,0,-71.15)">450</text>
<text x="756" y="1592.8" font-size="31.4" text-anchor="middle" fill="#000" transform="matrix(1,0,0,1.04,0,-63.71)">T3 - day 9</text>
<path d="M687.34,1743v-2.36h2.56v2.36zM690.3,1743v-4.53h2.56v4.53zM693.25,1743v-7.88h2.56v7.88zM696.21,1743v-13.4h2.56v13.4zM699.17,1743v-16.16h2.56v16.16zM702.12,1743v-22.07h2.56v22.07zM705.08,1743v-34.09h2.56v34.09zM708.03,1743v-45.32h2.56v45.32zM710.99,1743v-48.87h2.56v48.87zM713.94,1743v-48.87h2.56v48.87zM716.9,1743v-57.14h2.56v57.14zM719.86,1743v-56.75h2.56v56.75zM722.81,1743v-55.17h2.56v55.17zM725.77,1743v-52.81h2.56v52.81zM728.72,1743v-40.39h2.56v40.39zM731.68,1743v-41.38h2.56v41.38zM734.63,1743v-30.54h2.56v30.54zM737.59,1743v-23.65h2.56v23.65zM740.54,1743v-20.1h2.56v20.1zM743.5,1743v-20.69h2.56v20.69zM746.46,1743v-16.75h2.56v16.75zM749.41,1743v-10.84h2.56v10.84zM752.37,1743v-4.93h2.56v4.93zM755.32,1743v-2.56h2.56v2.56z" fill="#111"/>
<path d="M775.03,1743v-0.99h2.56v0.99zM777.98,1743v-1.97h2.56v1.97zM780.94,1743v-8.87h2.56v8.87zM783.89,1743v-19.31h2.56v19.31zM786.85,1743v-27h2.56v27zM789.81,1743v-54.78h2.56v54.78zM792.76,1743v-86.7h2.56v86.7zM795.72,1743v-103.45h2.56v103.45zM798.67,1743v-76.85h2.56v76.85zM801.63,1743v-50.64h2.56v50.64zM804.58,1743v-42.36h2.56v42.36zM807.54,1743v-30.94h2.56v30.94zM810.5,1743v-31.53h2.56v31.53zM813.45,1743v-32.51h2.56v32.51zM816.41,1743v-29.95h2.56v29.95zM819.36,1743v-23.25h2.56v23.25zM822.32,1743v-22.27h2.56v22.27zM825.27,1743v-18.72h2.56v18.72zM828.23,1743v-11.82h2.56v11.82zM831.19,1743v-5.32h2.56v5.32zM834.14,1743v-1.97h2.56v1.97zM837.1,1743v-0.99h2.56v0.99z" fill="#f00"/>
<line x1="900.7" y1="1601" x2="900.7" y2="1743" stroke="#000" stroke-width="1.8"/>
<line x1="894.1" y1="1742" x2="900.7" y2="1742" stroke="#000" stroke-width="1.8"/>
<line x1="894.1" y1="1706.75" x2="900.7" y2="1706.75" stroke="#000" stroke-width="1.8"/>
<line x1="894.1" y1="1671.5" x2="900.7" y2="1671.5" stroke="#000" stroke-width="1.8"/>
<line x1="894.1" y1="1636.25" x2="900.7" y2="1636.25" stroke="#000" stroke-width="1.8"/>
<line x1="894.1" y1="1601" x2="900.7" y2="1601" stroke="#000" stroke-width="1.8"/>
<line x1="894.1" y1="1742" x2="1111.5" y2="1742" stroke="#000" stroke-width="1.8"/>
<line x1="953.3" y1="1742" x2="953.3" y2="1747.5" stroke="#000" stroke-width="1.8"/>
<line x1="1058.7" y1="1742" x2="1058.7" y2="1747.5" stroke="#000" stroke-width="1.8"/>
<text x="947.8" y="1778.8" font-size="25.3" text-anchor="middle" fill="#000" transform="matrix(1,0,0,1.04,0,-71.15)">450</text>
<text x="1058.1" y="1778.8" font-size="25.3" text-anchor="middle" fill="#000" transform="matrix(1,0,0,1.04,0,-71.15)">450</text>
<text x="1004.4" y="1592.8" font-size="31.4" text-anchor="middle" fill="#000" transform="matrix(1,0,0,1.04,0,-63.71)">T3 - day 10</text>
<path d="M927.49,1742v-2.56h2.56v2.56zM930.45,1742v-7.49h2.56v7.49zM933.4,1742v-12.81h2.56v12.81zM936.36,1742v-17.14h2.56v17.14zM939.31,1742v-16.16h2.56v16.16zM942.27,1742v-34.48h2.56v34.48zM945.22,1742v-38.82h2.56v38.82zM948.18,1742v-44.33h2.56v44.33zM951.14,1742v-43.94h2.56v43.94zM954.09,1742v-48.67h2.56v48.67zM957.05,1742v-53.2h2.56v53.2zM960,1742v-55.57h2.56v55.57zM962.96,1742v-54.78h2.56v54.78zM965.91,1742v-50.25h2.56v50.25zM968.87,1742v-45.91h2.56v45.91zM971.83,1742v-40h2.56v40zM974.78,1742v-30.94h2.56v30.94zM977.74,1742v-23.65h2.56v23.65zM980.69,1742v-16.35h2.56v16.35zM983.65,1742v-11.82h2.56v11.82zM986.6,1742v-12.81h2.56v12.81zM989.56,1742v-7.88h2.56v7.88zM992.52,1742v-2.96h2.56v2.96zM995.47,1742v-2.36h2.56v2.36z" fill="#111"/>
<path d="M1013.2,1742v-0.99h2.56v0.99zM1016.16,1742v-1.97h2.56v1.97zM1019.12,1742v-6.31h2.56v6.31zM1022.07,1742v-17.14h2.56v17.14zM1025.03,1742v-29.56h2.56v29.56zM1027.98,1742v-66.01h2.56v66.01zM1030.94,1742v-79.8h2.56v79.8zM1033.89,1742v-95.96h2.56v95.96zM1036.85,1742v-95.57h2.56v95.57zM1039.81,1742v-60.49h2.56v60.49zM1042.76,1742v-38.82h2.56v38.82zM1045.72,1742v-29.95h2.56v29.95zM1048.67,1742v-25.02h2.56v25.02zM1051.63,1742v-32.12h2.56v32.12zM1054.58,1742v-34.88h2.56v34.88zM1057.54,1742v-22.27h2.56v22.27zM1060.5,1742v-17.73h2.56v17.73zM1063.45,1742v-9.26h2.56v9.26zM1066.41,1742v-6.5h2.56v6.5zM1069.36,1742v-2.96h2.56v2.96zM1072.32,1742v-1.97h2.56v1.97zM1075.27,1742v-0.99h2.56v0.99zM1078.23,1742v-0.59h2.56v0.59z" fill="#f00"/>
<line x1="1140.5" y1="1599.1" x2="1140.5" y2="1743.4" stroke="#000" stroke-width="1.8"/>
<line x1="1133.9" y1="1742.4" x2="1140.5" y2="1742.4" stroke="#000" stroke-width="1.8"/>
<line x1="1133.9" y1="1706.58" x2="1140.5" y2="1706.58" stroke="#000" stroke-width="1.8"/>
<line x1="1133.9" y1="1670.75" x2="1140.5" y2="1670.75" stroke="#000" stroke-width="1.8"/>
<line x1="1133.9" y1="1634.92" x2="1140.5" y2="1634.92" stroke="#000" stroke-width="1.8"/>
<line x1="1133.9" y1="1599.1" x2="1140.5" y2="1599.1" stroke="#000" stroke-width="1.8"/>
<line x1="1133.9" y1="1742.4" x2="1356.5" y2="1742.4" stroke="#000" stroke-width="1.8"/>
<line x1="1193.9" y1="1742.4" x2="1193.9" y2="1747.9" stroke="#000" stroke-width="1.8"/>
<line x1="1302.7" y1="1742.4" x2="1302.7" y2="1747.9" stroke="#000" stroke-width="1.8"/>
<text x="1188.2" y="1778.8" font-size="25.3" text-anchor="middle" fill="#000" transform="matrix(1,0,0,1.04,0,-71.15)">450</text>
<text x="1298.1" y="1778.8" font-size="25.3" text-anchor="middle" fill="#000" transform="matrix(1,0,0,1.04,0,-71.15)">450</text>
<text x="1242.4" y="1592.8" font-size="31.4" text-anchor="middle" fill="#000" transform="matrix(1,0,0,1.04,0,-63.71)">T3 - day 11</text>
<path d="M1165.52,1742.4v-1.38h2.56v1.38zM1168.48,1742.4v-2.36h2.56v2.36zM1171.43,1742.4v-6.31h2.56v6.31zM1174.39,1742.4v-14.19h2.56v14.19zM1177.34,1742.4v-20.1h2.56v20.1zM1180.3,1742.4v-24.04h2.56v24.04zM1183.25,1742.4v-31.92h2.56v31.92zM1186.21,1742.4v-40.79h2.56v40.79zM1189.17,1742.4v-47.09h2.56v47.09zM1192.12,1742.4v-48.08h2.56v48.08zM1195.08,1742.4v-56.16h2.56v56.16zM1198.03,1742.4v-60.1h2.56v60.1zM1200.99,1742.4v-56.95h2.56v56.95zM1203.94,1742.4v-56.95h2.56v56.95zM1206.9,1742.4v-41.18h2.56v41.18zM1209.86,1742.4v-38.42h2.56v38.42zM1212.81,1742.4v-33.5h2.56v33.5zM1215.77,1742.4v-24.04h2.56v24.04zM1218.72,1742.4v-19.11h2.56v19.11zM1221.68,1742.4v-14.19h2.56v14.19zM1224.63,1742.4v-13.6h2.56v13.6zM1227.59,1742.4v-12.81h2.56v12.81zM1230.54,1742.4v-8.28h2.56v8.28zM1233.5,1742.4v-5.32h2.56v5.32zM1236.46,1742.4v-1.97h2.56v1.97zM1239.41,1742.4v-0.79h2.56v0.79z" fill="#111"/>
<path d="M1261.68,1742.4v-5.91h2.56v5.91zM1264.63,1742.4v-15.17h2.56v15.17zM1267.59,1742.4v-35.86h2.56v35.86zM1270.54,1742.4v-72.71h2.56v72.71zM1273.5,1742.4v-103.45h2.56v103.45zM1276.46,1742.4v-107.19h2.56v107.19zM1279.41,1742.4v-69.95h2.56v69.95zM1282.37,1742.4v-56.95h2.56v56.95zM1285.32,1742.4v-34.48h2.56v34.48zM1288.28,1742.4v-29.36h2.56v29.36zM1291.23,1742.4v-33.5h2.56v33.5zM1294.19,1742.4v-34.29h2.56v34.29zM1297.15,1742.4v-33.3h2.56v33.3zM1300.1,1742.4v-21.08h2.56v21.08zM1303.06,1742.4v-16.16h2.56v16.16zM1306.01,1742.4v-8.28h2.56v8.28zM1308.97,1742.4v-5.91h2.56v5.91zM1311.92,1742.4v-4.33h2.56v4.33zM1314.88,1742.4v-1.38h2.56v1.38z" fill="#f00"/>
<rect x="1443.7" y="1633.5" width="14.8" height="13.8" fill="#10101a"/>
<text x="1468" y="1652.2" font-size="32.2" text-anchor="start" fill="#000" transform="matrix(1,0,0,1.04,0,-66.09)">wildtype 30°C</text>
<rect x="1443.7" y="1679.8" width="14.8" height="14.4" fill="#f00"/>
<text x="1465" y="1696.2" font-size="32.1" text-anchor="start" fill="#000" transform="matrix(1,0,0,1.04,0,-67.85)">TRα1+m 30°C</text>
<text x="1" y="1834.8" font-size="38" text-anchor="start" font-weight="bold" fill="#000">e</text>
<line x1="156.1" y1="1927.9" x2="156.1" y2="2390.5" stroke="#000" stroke-width="2"/>
<line x1="142.1" y1="2387.8" x2="156.1" y2="2387.8" stroke="#000" stroke-width="2"/>
<text x="133.4" y="2400.4" font-size="31.6" text-anchor="end" fill="#000" transform="matrix(1,0,0,1.04,0,-96.02)">200</text>
<line x1="142.1" y1="2256.45" x2="156.1" y2="2256.45" stroke="#000" stroke-width="2"/>
<text x="133.4" y="2269.05" font-size="31.6" text-anchor="end" fill="#000" transform="matrix(1,0,0,1.04,0,-90.76)">300</text>
<line x1="142.1" y1="2125.1" x2="156.1" y2="2125.1" stroke="#000" stroke-width="2"/>
<text x="133.4" y="2137.7" font-size="31.6" text-anchor="end" fill="#000" transform="matrix(1,0,0,1.04,0,-85.51)">400</text>
<line x1="142.1" y1="1993.75" x2="156.1" y2="1993.75" stroke="#000" stroke-width="2"/>
<text x="133.4" y="2006.35" font-size="31.6" text-anchor="end" fill="#000" transform="matrix(1,0,0,1.04,0,-80.25)">500</text>
<line x1="148.6" y1="2322.12" x2="156.1" y2="2322.12" stroke="#000" stroke-width="2"/>
<line x1="148.6" y1="2190.78" x2="156.1" y2="2190.78" stroke="#000" stroke-width="2"/>
<line x1="148.6" y1="2059.43" x2="156.1" y2="2059.43" stroke="#000" stroke-width="2"/>
<line x1="148.6" y1="1928.08" x2="156.1" y2="1928.08" stroke="#000" stroke-width="2"/>
<line x1="142" y1="2388" x2="843.8" y2="2388" stroke="#000" stroke-width="2"/>
<line x1="229.8" y1="2388" x2="229.8" y2="2401.5" stroke="#000" stroke-width="2"/>
<text x="229.3" y="2437.3" font-size="31.6" text-anchor="middle" fill="#000" transform="matrix(1,0,0,1.04,0,-97.49)">0</text>
<line x1="327.8" y1="2388" x2="327.8" y2="2401.5" stroke="#000" stroke-width="2"/>
<text x="327.3" y="2437.3" font-size="31.6" text-anchor="middle" fill="#000" transform="matrix(1,0,0,1.04,0,-97.49)">1</text>
<line x1="425.8" y1="2388" x2="425.8" y2="2401.5" stroke="#000" stroke-width="2"/>
<text x="425.3" y="2437.3" font-size="31.6" text-anchor="middle" fill="#000" transform="matrix(1,0,0,1.04,0,-97.49)">2</text>
<line x1="523.8" y1="2388" x2="523.8" y2="2401.5" stroke="#000" stroke-width="2"/>
<text x="523.3" y="2437.3" font-size="31.6" text-anchor="middle" fill="#000" transform="matrix(1,0,0,1.04,0,-97.49)">3</text>
<line x1="621.8" y1="2388" x2="621.8" y2="2401.5" stroke="#000" stroke-width="2"/>
<text x="621.3" y="2437.3" font-size="31.6" text-anchor="middle" fill="#000" transform="matrix(1,0,0,1.04,0,-97.49)">4</text>
<line x1="719.8" y1="2388" x2="719.8" y2="2401.5" stroke="#000" stroke-width="2"/>
<text x="719.3" y="2437.3" font-size="31.6" text-anchor="middle" fill="#000" transform="matrix(1,0,0,1.04,0,-97.49)">5</text>
<line x1="817.8" y1="2388" x2="817.8" y2="2401.5" stroke="#000" stroke-width="2"/>
<text x="817.3" y="2437.3" font-size="31.6" text-anchor="middle" fill="#000" transform="matrix(1,0,0,1.04,0,-97.49)">6</text>
<text transform="translate(56.7,2144) rotate(-90) scale(1,1.04)" font-size="33.5" text-anchor="middle">Heart rate (bpm)</text>
<text x="487.7" y="2477.7" font-size="32.7" text-anchor="middle" fill="#000" transform="matrix(1,0,0,1.04,0,-99.11)">Time (h)</text>
<path d="M223.4,1988 H230.8 V2008.5 H241.05 L227.1,2038.2 L213.15,2008.5 H223.4 Z" fill="#000"/>
<g transform="translate(0,0)">
<defs><linearGradient id="bgE" gradientUnits="userSpaceOnUse" x1="292" y1="0" x2="371" y2="0"><stop offset="0" stop-color="#f2c08f"/><stop offset="1" stop-color="#fcecdf"/></linearGradient><linearGradient id="bgEs" gradientUnits="userSpaceOnUse" x1="365" y1="0" x2="406" y2="0"><stop offset="0" stop-color="#f6cfa8"/><stop offset="1" stop-color="#fdf1e7"/></linearGradient></defs>
<path d="M365.3,2020.7 L389.5,2014.7 L402.4,2014.7 Q406.8,2015.5 406.3,2018 L403.3,2027.6 Q401.5,2029.6 399,2029.3 L366.2,2025.3 Z" fill="url(#bgEs)" stroke="#6b5e55" stroke-width="0.75" stroke-linejoin="round"/>
<path d="M390,2021 Q396,2023 401,2025.5" fill="none" stroke="#f0b27a" stroke-width="0.5"/>
<path d="M369.5,1986 Q376,1982.8 385,1983.6 Q395.6,1986.5 396.6,2000 Q396.8,2013 390,2018.5 Q383,2021.5 372.5,2019 L366,2016 Z" fill="#fbf7f3" stroke="#6b5e55" stroke-width="0.75" stroke-linejoin="round"/>
<path d="M373,1992 q4,-3 7,0 q2,3 -2,5 q-4,2 -1,5 q3,2 6,-1 M371,2004 q4,-2 6,1 q1,3 -3,4 q-3,2 -1,4 q3,2 6,-1 M380,2007 q3,-3 6,0 q2,3 -2,5 M384,1989 q3,-2 5,1 q2,4 -2,6 q-3,2 -1,5 M389,1995 q3,1 3,5 q0,4 -3,5 M376,2014 q3,-1 5,1 M386,2012 q3,-2 5,0" fill="none" stroke="#4a4a4a" stroke-width="0.75"/>
<path d="M390,1986 Q395,1993 393.5,2003 Q392,2012 388,2017" fill="none" stroke="#4a4a4a" stroke-width="0.7"/>
<path d="M292,2001.2 Q287.5,2002 286.6,2007 Q286.3,2013 290,2016 Q292,2017.3 293.6,2016.5 Z" fill="#f3c596" stroke="#6b5e55" stroke-width="0.75" stroke-linejoin="round"/>
<path d="M291.2,2001.7 Q300,1992.5 316.2,1985.3 Q331,1980.4 349,1978.9 L369.7,1979.1 Q371.6,1979.6 371.4,1982 L369.7,1994.8 L367.1,2007.8 L365.3,2020.7 Q362,2026 355,2029.5 Q345,2032.8 331.7,2032.9 Q314.5,2031.5 301.6,2023.3 Q293.5,2017.5 291.5,2010 Z" fill="url(#bgE)" stroke="#6b5e55" stroke-width="0.75" stroke-linejoin="round"/>
<path d="M291.4,2002 Q300,1995.6 314.5,1991.4 Q326,1988.2 340.3,1987.5 L370.6,1986.9" fill="none" stroke="#6b5e55" stroke-width="0.75" stroke-linejoin="round"/>
<line x1="345.5" y1="1975" x2="345.5" y2="1996.6" stroke="#5b7290" stroke-width="0.8"/>
<ellipse cx="346.1" cy="1910" rx="4.6" ry="1.5" fill="#d6e5f4" stroke="#8a9fb6" stroke-width="0.6"/><path d="M344,1911.3 L343.4,1917 L340.3,1922.5 L352,1922.5 L349,1917 L348.3,1911.3 Z" fill="#c3d8ee" stroke="#8a9fb6" stroke-width="0.6"/><line x1="346.1" y1="1911.5" x2="346.1" y2="1922" stroke="#9fb6cf" stroke-width="0.8"/><ellipse cx="345.8" cy="1923.6" rx="7.6" ry="1.5" fill="#dbe8f5" stroke="#8a9fb6" stroke-width="0.6"/><rect x="340.4" y="1925" width="11.1" height="49.2" fill="#cfe0f3" stroke="#7d92ab" stroke-width="0.7"/><rect x="341.2" y="1926" width="3" height="48" fill="#bcd3ec"/><rect x="340.8" y="1964.6" width="5.5" height="3.4" fill="#1a1a1a"/><rect x="346.3" y="1964.6" width="4.8" height="3.4" fill="#8d9aa8"/><rect x="340.8" y="1968" width="10.3" height="5.8" fill="#eaf2fa"/><path d="M343.8,1974.3 L345.5,1977 L347.2,1974.3 Z" fill="#a7bfd9" stroke="#7d92ab" stroke-width="0.5"/>
<line x1="347" y1="1929" x2="351" y2="1929" stroke="#6a7e95" stroke-width="0.6"/><line x1="347" y1="1932.2" x2="351" y2="1932.2" stroke="#6a7e95" stroke-width="0.6"/><line x1="347" y1="1935.4" x2="351" y2="1935.4" stroke="#6a7e95" stroke-width="0.6"/><line x1="347" y1="1938.6" x2="351" y2="1938.6" stroke="#6a7e95" stroke-width="0.6"/><line x1="347" y1="1941.8" x2="351" y2="1941.8" stroke="#6a7e95" stroke-width="0.6"/><line x1="347" y1="1945" x2="351" y2="1945" stroke="#6a7e95" stroke-width="0.6"/><line x1="347" y1="1948.2" x2="351" y2="1948.2" stroke="#6a7e95" stroke-width="0.6"/><line x1="347" y1="1951.4" x2="351" y2="1951.4" stroke="#6a7e95" stroke-width="0.6"/><line x1="347" y1="1954.6" x2="351" y2="1954.6" stroke="#6a7e95" stroke-width="0.6"/><line x1="347" y1="1957.8" x2="351" y2="1957.8" stroke="#6a7e95" stroke-width="0.6"/><line x1="347" y1="1961" x2="351" y2="1961" stroke="#6a7e95" stroke-width="0.6"/>
</g>
<line x1="442.9" y1="1933" x2="491.6" y2="1933" stroke="#008000" stroke-width="4.2"/>
<circle cx="466.9" cy="1933" r="8.8" fill="#008000"/>
<text x="503" y="1944.2" font-size="31.7" text-anchor="start" fill="#000" transform="matrix(1,0,0,1.04,0,-77.77)">control i.c.v.</text>
<line x1="442.9" y1="1981.7" x2="491.6" y2="1981.7" stroke="#000" stroke-width="4.2"/>
<path d="M458.6,1975.5 H476.8 L467.7,1989.5 Z" fill="#000"/>
<text x="503" y="2001.8" font-size="32.2" text-anchor="start" fill="#000" transform="matrix(1,0,0,1.04,0,-80.07)">T3 i.c.v. (8 ng/2 μl)</text>
<line x1="177" y1="2215.8" x2="177" y2="2250.2" stroke="#000" stroke-width="3.8"/>
<line x1="167.7" y1="2215.8" x2="186.3" y2="2215.8" stroke="#000" stroke-width="3.8"/>
<line x1="167.7" y1="2250.2" x2="186.3" y2="2250.2" stroke="#000" stroke-width="3.8"/>
<line x1="226.1" y1="2228.5" x2="226.1" y2="2252.4" stroke="#000" stroke-width="3.8"/>
<line x1="216.8" y1="2228.5" x2="235.4" y2="2228.5" stroke="#000" stroke-width="3.8"/>
<line x1="216.8" y1="2252.4" x2="235.4" y2="2252.4" stroke="#000" stroke-width="3.8"/>
<line x1="275.3" y1="2094.5" x2="275.3" y2="2130.8" stroke="#000" stroke-width="3.8"/>
<line x1="266" y1="2094.5" x2="284.6" y2="2094.5" stroke="#000" stroke-width="3.8"/>
<line x1="266" y1="2130.8" x2="284.6" y2="2130.8" stroke="#000" stroke-width="3.8"/>
<line x1="324.1" y1="2181.7" x2="324.1" y2="2217.8" stroke="#000" stroke-width="3.8"/>
<line x1="314.8" y1="2181.7" x2="333.4" y2="2181.7" stroke="#000" stroke-width="3.8"/>
<line x1="314.8" y1="2217.8" x2="333.4" y2="2217.8" stroke="#000" stroke-width="3.8"/>
<line x1="372.6" y1="2218.1" x2="372.6" y2="2256.6" stroke="#000" stroke-width="3.8"/>
<line x1="363.3" y1="2218.1" x2="381.9" y2="2218.1" stroke="#000" stroke-width="3.8"/>
<line x1="363.3" y1="2256.6" x2="381.9" y2="2256.6" stroke="#000" stroke-width="3.8"/>
<line x1="421.9" y1="2220.1" x2="421.9" y2="2249.8" stroke="#000" stroke-width="3.8"/>
<line x1="412.6" y1="2220.1" x2="431.2" y2="2220.1" stroke="#000" stroke-width="3.8"/>
<line x1="412.6" y1="2249.8" x2="431.2" y2="2249.8" stroke="#000" stroke-width="3.8"/>
<line x1="470.6" y1="2210.7" x2="470.6" y2="2244.8" stroke="#000" stroke-width="3.8"/>
<line x1="461.3" y1="2210.7" x2="479.9" y2="2210.7" stroke="#000" stroke-width="3.8"/>
<line x1="461.3" y1="2244.8" x2="479.9" y2="2244.8" stroke="#000" stroke-width="3.8"/>
<line x1="519.8" y1="2205.7" x2="519.8" y2="2256.8" stroke="#000" stroke-width="3.8"/>
<line x1="510.5" y1="2205.7" x2="529.1" y2="2205.7" stroke="#000" stroke-width="3.8"/>
<line x1="510.5" y1="2256.8" x2="529.1" y2="2256.8" stroke="#000" stroke-width="3.8"/>
<line x1="568.4" y1="2256" x2="568.4" y2="2268" stroke="#000" stroke-width="3.8"/>
<line x1="559.1" y1="2256" x2="577.7" y2="2256" stroke="#000" stroke-width="3.8"/>
<line x1="559.1" y1="2268" x2="577.7" y2="2268" stroke="#000" stroke-width="3.8"/>
<line x1="617.6" y1="2232.6" x2="617.6" y2="2252.1" stroke="#000" stroke-width="3.8"/>
<line x1="608.3" y1="2232.6" x2="626.9" y2="2232.6" stroke="#000" stroke-width="3.8"/>
<line x1="608.3" y1="2252.1" x2="626.9" y2="2252.1" stroke="#000" stroke-width="3.8"/>
<line x1="666.5" y1="2208.1" x2="666.5" y2="2243.9" stroke="#000" stroke-width="3.8"/>
<line x1="657.2" y1="2208.1" x2="675.8" y2="2208.1" stroke="#000" stroke-width="3.8"/>
<line x1="657.2" y1="2243.9" x2="675.8" y2="2243.9" stroke="#000" stroke-width="3.8"/>
<line x1="715.6" y1="2229.1" x2="715.6" y2="2261.5" stroke="#000" stroke-width="3.8"/>
<line x1="706.3" y1="2229.1" x2="724.9" y2="2229.1" stroke="#000" stroke-width="3.8"/>
<line x1="706.3" y1="2261.5" x2="724.9" y2="2261.5" stroke="#000" stroke-width="3.8"/>
<line x1="764.3" y1="2218.6" x2="764.3" y2="2239.2" stroke="#000" stroke-width="3.8"/>
<line x1="755" y1="2218.6" x2="773.6" y2="2218.6" stroke="#000" stroke-width="3.8"/>
<line x1="755" y1="2239.2" x2="773.6" y2="2239.2" stroke="#000" stroke-width="3.8"/>
<line x1="813" y1="2198.7" x2="813" y2="2217" stroke="#000" stroke-width="3.8"/>
<line x1="803.7" y1="2198.7" x2="822.3" y2="2198.7" stroke="#000" stroke-width="3.8"/>
<line x1="803.7" y1="2217" x2="822.3" y2="2217" stroke="#000" stroke-width="3.8"/>
<polyline points="177,2233 226.1,2240.5 275.3,2116.5 324.1,2201.9 372.6,2237.6 421.9,2236.4 470.6,2229 519.8,2232.5 568.4,2262.8 617.6,2238.3 666.5,2226.6 715.6,2252.3 764.3,2232 813,2210.2" fill="none" stroke="#000" stroke-width="4.4" stroke-linejoin="round"/>
<rect x="167.7" y="2223.7" width="18.6" height="18.6" fill="#000"/>
<rect x="216.8" y="2231.2" width="18.6" height="18.6" fill="#000"/>
<rect x="266" y="2107.2" width="18.6" height="18.6" fill="#000"/>
<rect x="314.8" y="2192.6" width="18.6" height="18.6" fill="#000"/>
<rect x="363.3" y="2228.3" width="18.6" height="18.6" fill="#000"/>
<rect x="412.6" y="2227.1" width="18.6" height="18.6" fill="#000"/>
<rect x="461.3" y="2219.7" width="18.6" height="18.6" fill="#000"/>
<rect x="510.5" y="2223.2" width="18.6" height="18.6" fill="#000"/>
<rect x="559.1" y="2253.5" width="18.6" height="18.6" fill="#000"/>
<rect x="608.3" y="2229" width="18.6" height="18.6" fill="#000"/>
<rect x="657.2" y="2217.3" width="18.6" height="18.6" fill="#000"/>
<rect x="706.3" y="2243" width="18.6" height="18.6" fill="#000"/>
<rect x="755" y="2222.7" width="18.6" height="18.6" fill="#000"/>
<rect x="803.7" y="2200.9" width="18.6" height="18.6" fill="#000"/>
<line x1="177" y1="2208" x2="177" y2="2245.1" stroke="#008000" stroke-width="3.8"/>
<line x1="167.7" y1="2208" x2="186.3" y2="2208" stroke="#008000" stroke-width="3.8"/>
<line x1="167.7" y1="2245.1" x2="186.3" y2="2245.1" stroke="#008000" stroke-width="3.8"/>
<line x1="226.1" y1="2223.5" x2="226.1" y2="2255.9" stroke="#008000" stroke-width="3.8"/>
<line x1="216.8" y1="2223.5" x2="235.4" y2="2223.5" stroke="#008000" stroke-width="3.8"/>
<line x1="216.8" y1="2255.9" x2="235.4" y2="2255.9" stroke="#008000" stroke-width="3.8"/>
<line x1="275.3" y1="2103.6" x2="275.3" y2="2159.8" stroke="#008000" stroke-width="3.8"/>
<line x1="266" y1="2103.6" x2="284.6" y2="2103.6" stroke="#008000" stroke-width="3.8"/>
<line x1="266" y1="2159.8" x2="284.6" y2="2159.8" stroke="#008000" stroke-width="3.8"/>
<line x1="324.1" y1="2209.5" x2="324.1" y2="2236.2" stroke="#008000" stroke-width="3.8"/>
<line x1="314.8" y1="2209.5" x2="333.4" y2="2209.5" stroke="#008000" stroke-width="3.8"/>
<line x1="314.8" y1="2236.2" x2="333.4" y2="2236.2" stroke="#008000" stroke-width="3.8"/>
<line x1="372.6" y1="2210.7" x2="372.6" y2="2241.1" stroke="#008000" stroke-width="3.8"/>
<line x1="363.3" y1="2210.7" x2="381.9" y2="2210.7" stroke="#008000" stroke-width="3.8"/>
<line x1="363.3" y1="2241.1" x2="381.9" y2="2241.1" stroke="#008000" stroke-width="3.8"/>
<line x1="421.9" y1="2228" x2="421.9" y2="2270.7" stroke="#008000" stroke-width="3.8"/>
<line x1="412.6" y1="2228" x2="431.2" y2="2228" stroke="#008000" stroke-width="3.8"/>
<line x1="412.6" y1="2270.7" x2="431.2" y2="2270.7" stroke="#008000" stroke-width="3.8"/>
<line x1="470.6" y1="2245.7" x2="470.6" y2="2268.2" stroke="#008000" stroke-width="3.8"/>
<line x1="461.3" y1="2245.7" x2="479.9" y2="2245.7" stroke="#008000" stroke-width="3.8"/>
<line x1="461.3" y1="2268.2" x2="479.9" y2="2268.2" stroke="#008000" stroke-width="3.8"/>
<line x1="519.8" y1="2231" x2="519.8" y2="2260.9" stroke="#008000" stroke-width="3.8"/>
<line x1="510.5" y1="2231" x2="529.1" y2="2231" stroke="#008000" stroke-width="3.8"/>
<line x1="510.5" y1="2260.9" x2="529.1" y2="2260.9" stroke="#008000" stroke-width="3.8"/>
<line x1="568.4" y1="2246" x2="568.4" y2="2280.2" stroke="#008000" stroke-width="3.8"/>
<line x1="559.1" y1="2246" x2="577.7" y2="2246" stroke="#008000" stroke-width="3.8"/>
<line x1="559.1" y1="2280.2" x2="577.7" y2="2280.2" stroke="#008000" stroke-width="3.8"/>
<line x1="617.6" y1="2247.8" x2="617.6" y2="2280.2" stroke="#008000" stroke-width="3.8"/>
<line x1="608.3" y1="2247.8" x2="626.9" y2="2247.8" stroke="#008000" stroke-width="3.8"/>
<line x1="608.3" y1="2280.2" x2="626.9" y2="2280.2" stroke="#008000" stroke-width="3.8"/>
<line x1="666.5" y1="2247.8" x2="666.5" y2="2273.2" stroke="#008000" stroke-width="3.8"/>
<line x1="657.2" y1="2247.8" x2="675.8" y2="2247.8" stroke="#008000" stroke-width="3.8"/>
<line x1="657.2" y1="2273.2" x2="675.8" y2="2273.2" stroke="#008000" stroke-width="3.8"/>
<line x1="715.6" y1="2261.9" x2="715.6" y2="2291.4" stroke="#008000" stroke-width="3.8"/>
<line x1="706.3" y1="2261.9" x2="724.9" y2="2261.9" stroke="#008000" stroke-width="3.8"/>
<line x1="706.3" y1="2291.4" x2="724.9" y2="2291.4" stroke="#008000" stroke-width="3.8"/>
<line x1="764.3" y1="2238.5" x2="764.3" y2="2261" stroke="#008000" stroke-width="3.8"/>
<line x1="755" y1="2238.5" x2="773.6" y2="2238.5" stroke="#008000" stroke-width="3.8"/>
<line x1="755" y1="2261" x2="773.6" y2="2261" stroke="#008000" stroke-width="3.8"/>
<line x1="813" y1="2184.2" x2="813" y2="2220.5" stroke="#008000" stroke-width="3.8"/>
<line x1="803.7" y1="2184.2" x2="822.3" y2="2184.2" stroke="#008000" stroke-width="3.8"/>
<line x1="803.7" y1="2220.5" x2="822.3" y2="2220.5" stroke="#008000" stroke-width="3.8"/>
<polyline points="177,2226.2 226.1,2240.3 275.3,2131.7 324.1,2222.9 372.6,2225.3 421.9,2249.5 470.6,2256.8 519.8,2246.8 568.4,2262.8 617.6,2263.5 666.5,2260.5 715.6,2276.9 764.3,2250 813,2202" fill="none" stroke="#008000" stroke-width="4.4" stroke-linejoin="round"/>
<circle cx="177" cy="2226.2" r="9.3" fill="#008000"/>
<circle cx="226.1" cy="2240.3" r="9.3" fill="#008000"/>
<circle cx="275.3" cy="2131.7" r="9.3" fill="#008000"/>
<circle cx="324.1" cy="2222.9" r="9.3" fill="#008000"/>
<circle cx="372.6" cy="2225.3" r="9.3" fill="#008000"/>
<circle cx="421.9" cy="2249.5" r="9.3" fill="#008000"/>
<circle cx="470.6" cy="2256.8" r="9.3" fill="#008000"/>
<circle cx="519.8" cy="2246.8" r="9.3" fill="#008000"/>
<circle cx="568.4" cy="2262.8" r="9.3" fill="#008000"/>
<circle cx="617.6" cy="2263.5" r="9.3" fill="#008000"/>
<circle cx="666.5" cy="2260.5" r="9.3" fill="#008000"/>
<circle cx="715.6" cy="2276.9" r="9.3" fill="#008000"/>
<circle cx="764.3" cy="2250" r="9.3" fill="#008000"/>
<circle cx="813" cy="2202" r="9.3" fill="#008000"/>
<text x="868" y="1834.5" font-size="38" text-anchor="start" font-weight="bold" fill="#000">f</text>
<line x1="1044.8" y1="1927.5" x2="1044.8" y2="2391.7" stroke="#000" stroke-width="2"/>
<line x1="1030.8" y1="2389.2" x2="1044.8" y2="2389.2" stroke="#000" stroke-width="2"/>
<text x="1021.3" y="2401.8" font-size="31.6" text-anchor="end" fill="#000" transform="matrix(1,0,0,1.04,0,-96.07)">200</text>
<line x1="1030.8" y1="2257.85" x2="1044.8" y2="2257.85" stroke="#000" stroke-width="2"/>
<text x="1021.3" y="2270.45" font-size="31.6" text-anchor="end" fill="#000" transform="matrix(1,0,0,1.04,0,-90.82)">300</text>
<line x1="1030.8" y1="2126.5" x2="1044.8" y2="2126.5" stroke="#000" stroke-width="2"/>
<text x="1021.3" y="2139.1" font-size="31.6" text-anchor="end" fill="#000" transform="matrix(1,0,0,1.04,0,-85.56)">400</text>
<line x1="1030.8" y1="1995.15" x2="1044.8" y2="1995.15" stroke="#000" stroke-width="2"/>
<text x="1021.3" y="2007.75" font-size="31.6" text-anchor="end" fill="#000" transform="matrix(1,0,0,1.04,0,-80.31)">500</text>
<line x1="1037.3" y1="2323.52" x2="1044.8" y2="2323.52" stroke="#000" stroke-width="2"/>
<line x1="1037.3" y1="2192.17" x2="1044.8" y2="2192.17" stroke="#000" stroke-width="2"/>
<line x1="1037.3" y1="2060.82" x2="1044.8" y2="2060.82" stroke="#000" stroke-width="2"/>
<line x1="1037.3" y1="1929.47" x2="1044.8" y2="1929.47" stroke="#000" stroke-width="2"/>
<line x1="1028.8" y1="2389.2" x2="1736.2" y2="2389.2" stroke="#000" stroke-width="2"/>
<line x1="1118.3" y1="2389.2" x2="1118.3" y2="2402.7" stroke="#000" stroke-width="2"/>
<text x="1117.8" y="2437.3" font-size="31.6" text-anchor="middle" fill="#000" transform="matrix(1,0,0,1.04,0,-97.49)">0</text>
<line x1="1216.7" y1="2389.2" x2="1216.7" y2="2402.7" stroke="#000" stroke-width="2"/>
<text x="1216.2" y="2437.3" font-size="31.6" text-anchor="middle" fill="#000" transform="matrix(1,0,0,1.04,0,-97.49)">1</text>
<line x1="1315.1" y1="2389.2" x2="1315.1" y2="2402.7" stroke="#000" stroke-width="2"/>
<text x="1314.6" y="2437.3" font-size="31.6" text-anchor="middle" fill="#000" transform="matrix(1,0,0,1.04,0,-97.49)">2</text>
<line x1="1413.5" y1="2389.2" x2="1413.5" y2="2402.7" stroke="#000" stroke-width="2"/>
<text x="1413" y="2437.3" font-size="31.6" text-anchor="middle" fill="#000" transform="matrix(1,0,0,1.04,0,-97.49)">3</text>
<line x1="1511.9" y1="2389.2" x2="1511.9" y2="2402.7" stroke="#000" stroke-width="2"/>
<text x="1511.4" y="2437.3" font-size="31.6" text-anchor="middle" fill="#000" transform="matrix(1,0,0,1.04,0,-97.49)">4</text>
<line x1="1610.3" y1="2389.2" x2="1610.3" y2="2402.7" stroke="#000" stroke-width="2"/>
<text x="1609.8" y="2437.3" font-size="31.6" text-anchor="middle" fill="#000" transform="matrix(1,0,0,1.04,0,-97.49)">5</text>
<line x1="1708.7" y1="2389.2" x2="1708.7" y2="2402.7" stroke="#000" stroke-width="2"/>
<text x="1708.2" y="2437.3" font-size="31.6" text-anchor="middle" fill="#000" transform="matrix(1,0,0,1.04,0,-97.49)">6</text>
<text transform="translate(932.1,2143.5) rotate(-90) scale(1,1.04)" font-size="33.7" text-anchor="middle">Heart rate (bpm)</text>
<text x="1373.3" y="2477.7" font-size="32.7" text-anchor="middle" fill="#000" transform="matrix(1,0,0,1.04,0,-99.11)">Time (h)</text>
<path d="M1115.65,1996.9 H1123.35 V2021.1 H1132.25 L1119.5,2055.6 L1106.75,2021.1 H1115.65 Z" fill="#000"/>
<g transform="translate(896.5,1907.1) scale(1,1.156) translate(0,-1908.6)">
<defs><linearGradient id="bgF" gradientUnits="userSpaceOnUse" x1="292" y1="0" x2="371" y2="0"><stop offset="0" stop-color="#f2c08f"/><stop offset="1" stop-color="#fcecdf"/></linearGradient><linearGradient id="bgFs" gradientUnits="userSpaceOnUse" x1="365" y1="0" x2="406" y2="0"><stop offset="0" stop-color="#f6cfa8"/><stop offset="1" stop-color="#fdf1e7"/></linearGradient></defs>
<path d="M365.3,2020.7 L389.5,2014.7 L402.4,2014.7 Q406.8,2015.5 406.3,2018 L403.3,2027.6 Q401.5,2029.6 399,2029.3 L366.2,2025.3 Z" fill="url(#bgFs)" stroke="#6b5e55" stroke-width="0.75" stroke-linejoin="round"/>
<path d="M390,2021 Q396,2023 401,2025.5" fill="none" stroke="#f0b27a" stroke-width="0.5"/>
<path d="M369.5,1986 Q376,1982.8 385,1983.6 Q395.6,1986.5 396.6,2000 Q396.8,2013 390,2018.5 Q383,2021.5 372.5,2019 L366,2016 Z" fill="#fbf7f3" stroke="#6b5e55" stroke-width="0.75" stroke-linejoin="round"/>
<path d="M373,1992 q4,-3 7,0 q2,3 -2,5 q-4,2 -1,5 q3,2 6,-1 M371,2004 q4,-2 6,1 q1,3 -3,4 q-3,2 -1,4 q3,2 6,-1 M380,2007 q3,-3 6,0 q2,3 -2,5 M384,1989 q3,-2 5,1 q2,4 -2,6 q-3,2 -1,5 M389,1995 q3,1 3,5 q0,4 -3,5 M376,2014 q3,-1 5,1 M386,2012 q3,-2 5,0" fill="none" stroke="#4a4a4a" stroke-width="0.75"/>
<path d="M390,1986 Q395,1993 393.5,2003 Q392,2012 388,2017" fill="none" stroke="#4a4a4a" stroke-width="0.7"/>
<path d="M292,2001.2 Q287.5,2002 286.6,2007 Q286.3,2013 290,2016 Q292,2017.3 293.6,2016.5 Z" fill="#f3c596" stroke="#6b5e55" stroke-width="0.75" stroke-linejoin="round"/>
<path d="M291.2,2001.7 Q300,1992.5 316.2,1985.3 Q331,1980.4 349,1978.9 L369.7,1979.1 Q371.6,1979.6 371.4,1982 L369.7,1994.8 L367.1,2007.8 L365.3,2020.7 Q362,2026 355,2029.5 Q345,2032.8 331.7,2032.9 Q314.5,2031.5 301.6,2023.3 Q293.5,2017.5 291.5,2010 Z" fill="url(#bgF)" stroke="#6b5e55" stroke-width="0.75" stroke-linejoin="round"/>
<path d="M291.4,2002 Q300,1995.6 314.5,1991.4 Q326,1988.2 340.3,1987.5 L370.6,1986.9" fill="none" stroke="#6b5e55" stroke-width="0.75" stroke-linejoin="round"/>
<line x1="345.5" y1="1975" x2="345.5" y2="1996.6" stroke="#5b7290" stroke-width="0.8"/>
<ellipse cx="346.1" cy="1910" rx="4.6" ry="1.5" fill="#d6e5f4" stroke="#8a9fb6" stroke-width="0.6"/><path d="M344,1911.3 L343.4,1917 L340.3,1922.5 L352,1922.5 L349,1917 L348.3,1911.3 Z" fill="#c3d8ee" stroke="#8a9fb6" stroke-width="0.6"/><line x1="346.1" y1="1911.5" x2="346.1" y2="1922" stroke="#9fb6cf" stroke-width="0.8"/><ellipse cx="345.8" cy="1923.6" rx="7.6" ry="1.5" fill="#dbe8f5" stroke="#8a9fb6" stroke-width="0.6"/><rect x="340.4" y="1925" width="11.1" height="49.2" fill="#cfe0f3" stroke="#7d92ab" stroke-width="0.7"/><rect x="341.2" y="1926" width="3" height="48" fill="#bcd3ec"/><rect x="340.8" y="1964.6" width="5.5" height="3.4" fill="#1a1a1a"/><rect x="346.3" y="1964.6" width="4.8" height="3.4" fill="#8d9aa8"/><rect x="340.8" y="1968" width="10.3" height="5.8" fill="#eaf2fa"/><path d="M343.8,1974.3 L345.5,1977 L347.2,1974.3 Z" fill="#a7bfd9" stroke="#7d92ab" stroke-width="0.5"/>
<line x1="347" y1="1929" x2="351" y2="1929" stroke="#6a7e95" stroke-width="0.6"/><line x1="347" y1="1932.2" x2="351" y2="1932.2" stroke="#6a7e95" stroke-width="0.6"/><line x1="347" y1="1935.4" x2="351" y2="1935.4" stroke="#6a7e95" stroke-width="0.6"/><line x1="347" y1="1938.6" x2="351" y2="1938.6" stroke="#6a7e95" stroke-width="0.6"/><line x1="347" y1="1941.8" x2="351" y2="1941.8" stroke="#6a7e95" stroke-width="0.6"/><line x1="347" y1="1945" x2="351" y2="1945" stroke="#6a7e95" stroke-width="0.6"/><line x1="347" y1="1948.2" x2="351" y2="1948.2" stroke="#6a7e95" stroke-width="0.6"/><line x1="347" y1="1951.4" x2="351" y2="1951.4" stroke="#6a7e95" stroke-width="0.6"/><line x1="347" y1="1954.6" x2="351" y2="1954.6" stroke="#6a7e95" stroke-width="0.6"/><line x1="347" y1="1957.8" x2="351" y2="1957.8" stroke="#6a7e95" stroke-width="0.6"/><line x1="347" y1="1961" x2="351" y2="1961" stroke="#6a7e95" stroke-width="0.6"/>
</g>
<line x1="1322.5" y1="1940.5" x2="1370.1" y2="1940.5" stroke="#f00" stroke-width="4.2"/>
<circle cx="1345.7" cy="1940.5" r="8.7" fill="#f00"/>
<text x="1381.5" y="1953.2" font-size="31.6" text-anchor="start" fill="#000" transform="matrix(1,0,0,1.04,0,-78.13)">TRα1+m control i.c.v.</text>
<line x1="1322.5" y1="1997.4" x2="1370.1" y2="1997.4" stroke="#fca040" stroke-width="4.2"/>
<rect x="1338.2" y="1989.3" width="17.2" height="17.2" fill="#fca040"/>
<text x="1381.5" y="2009.2" font-size="31.6" text-anchor="start" fill="#000" transform="matrix(1,0,0,1.04,0,-80.37)">TRα1+m T3 i.c.v. (8 ng/2 μl)</text>
<line x1="1069.3" y1="2234.7" x2="1069.3" y2="2270.4" stroke="#fca040" stroke-width="4.2"/>
<line x1="1059.8" y1="2234.7" x2="1078.8" y2="2234.7" stroke="#fca040" stroke-width="3.8"/>
<line x1="1059.8" y1="2270.4" x2="1078.8" y2="2270.4" stroke="#fca040" stroke-width="3.8"/>
<line x1="1118.3" y1="2236.7" x2="1118.3" y2="2256.3" stroke="#fca040" stroke-width="4.2"/>
<line x1="1108.8" y1="2236.7" x2="1127.8" y2="2236.7" stroke="#fca040" stroke-width="3.8"/>
<line x1="1108.8" y1="2256.3" x2="1127.8" y2="2256.3" stroke="#fca040" stroke-width="3.8"/>
<line x1="1167.5" y1="2125.2" x2="1167.5" y2="2154.8" stroke="#fca040" stroke-width="4.2"/>
<line x1="1158" y1="2125.2" x2="1177" y2="2125.2" stroke="#fca040" stroke-width="3.8"/>
<line x1="1158" y1="2154.8" x2="1177" y2="2154.8" stroke="#fca040" stroke-width="3.8"/>
<line x1="1216.9" y1="2097.5" x2="1216.9" y2="2140.8" stroke="#fca040" stroke-width="4.2"/>
<line x1="1207.4" y1="2097.5" x2="1226.4" y2="2097.5" stroke="#fca040" stroke-width="3.8"/>
<line x1="1207.4" y1="2140.8" x2="1226.4" y2="2140.8" stroke="#fca040" stroke-width="3.8"/>
<line x1="1266.1" y1="2109.7" x2="1266.1" y2="2205" stroke="#fca040" stroke-width="4.2"/>
<line x1="1256.6" y1="2109.7" x2="1275.6" y2="2109.7" stroke="#fca040" stroke-width="3.8"/>
<line x1="1256.6" y1="2205" x2="1275.6" y2="2205" stroke="#fca040" stroke-width="3.8"/>
<line x1="1315.3" y1="2136.7" x2="1315.3" y2="2226.8" stroke="#fca040" stroke-width="4.2"/>
<line x1="1305.8" y1="2136.7" x2="1324.8" y2="2136.7" stroke="#fca040" stroke-width="3.8"/>
<line x1="1305.8" y1="2226.8" x2="1324.8" y2="2226.8" stroke="#fca040" stroke-width="3.8"/>
<line x1="1364.3" y1="2147.8" x2="1364.3" y2="2218.3" stroke="#fca040" stroke-width="4.2"/>
<line x1="1354.8" y1="2147.8" x2="1373.8" y2="2147.8" stroke="#fca040" stroke-width="3.8"/>
<line x1="1354.8" y1="2218.3" x2="1373.8" y2="2218.3" stroke="#fca040" stroke-width="3.8"/>
<line x1="1413.7" y1="2213.2" x2="1413.7" y2="2248.7" stroke="#fca040" stroke-width="4.2"/>
<line x1="1404.2" y1="2213.2" x2="1423.2" y2="2213.2" stroke="#fca040" stroke-width="3.8"/>
<line x1="1404.2" y1="2248.7" x2="1423.2" y2="2248.7" stroke="#fca040" stroke-width="3.8"/>
<line x1="1462.7" y1="2215.4" x2="1462.7" y2="2286" stroke="#fca040" stroke-width="4.2"/>
<line x1="1453.2" y1="2215.4" x2="1472.2" y2="2215.4" stroke="#fca040" stroke-width="3.8"/>
<line x1="1453.2" y1="2286" x2="1472.2" y2="2286" stroke="#fca040" stroke-width="3.8"/>
<line x1="1512.3" y1="2152.2" x2="1512.3" y2="2231.7" stroke="#fca040" stroke-width="4.2"/>
<line x1="1502.8" y1="2152.2" x2="1521.8" y2="2152.2" stroke="#fca040" stroke-width="3.8"/>
<line x1="1502.8" y1="2231.7" x2="1521.8" y2="2231.7" stroke="#fca040" stroke-width="3.8"/>
<line x1="1561.8" y1="2200.6" x2="1561.8" y2="2232.8" stroke="#fca040" stroke-width="4.2"/>
<line x1="1552.3" y1="2200.6" x2="1571.3" y2="2200.6" stroke="#fca040" stroke-width="3.8"/>
<line x1="1552.3" y1="2232.8" x2="1571.3" y2="2232.8" stroke="#fca040" stroke-width="3.8"/>
<line x1="1610.5" y1="2175.1" x2="1610.5" y2="2248.7" stroke="#fca040" stroke-width="4.2"/>
<line x1="1601" y1="2175.1" x2="1620" y2="2175.1" stroke="#fca040" stroke-width="3.8"/>
<line x1="1601" y1="2248.7" x2="1620" y2="2248.7" stroke="#fca040" stroke-width="3.8"/>
<line x1="1660" y1="2175.5" x2="1660" y2="2226.1" stroke="#fca040" stroke-width="4.2"/>
<line x1="1650.5" y1="2175.5" x2="1669.5" y2="2175.5" stroke="#fca040" stroke-width="3.8"/>
<line x1="1650.5" y1="2226.1" x2="1669.5" y2="2226.1" stroke="#fca040" stroke-width="3.8"/>
<line x1="1709.2" y1="2203.7" x2="1709.2" y2="2231.2" stroke="#fca040" stroke-width="4.2"/>
<line x1="1699.7" y1="2203.7" x2="1718.7" y2="2203.7" stroke="#fca040" stroke-width="3.8"/>
<line x1="1699.7" y1="2231.2" x2="1718.7" y2="2231.2" stroke="#fca040" stroke-width="3.8"/>
<polyline points="1069.3,2252.5 1118.3,2246.4 1167.5,2146.5 1216.9,2137 1266.1,2157.1 1315.3,2181.5 1364.3,2183.1 1413.7,2230.7 1462.7,2250.7 1512.3,2190.2 1561.8,2214.6 1610.5,2211.5 1660,2200.8 1709.2,2217.4" fill="none" stroke="#fca040" stroke-width="4.6" stroke-linejoin="round"/>
<rect x="1059.95" y="2243.15" width="18.7" height="18.7" fill="#fca040"/>
<rect x="1108.95" y="2237.05" width="18.7" height="18.7" fill="#fca040"/>
<rect x="1158.15" y="2137.15" width="18.7" height="18.7" fill="#fca040"/>
<rect x="1207.55" y="2127.65" width="18.7" height="18.7" fill="#fca040"/>
<rect x="1256.75" y="2147.75" width="18.7" height="18.7" fill="#fca040"/>
<rect x="1305.95" y="2172.15" width="18.7" height="18.7" fill="#fca040"/>
<rect x="1354.95" y="2173.75" width="18.7" height="18.7" fill="#fca040"/>
<rect x="1404.35" y="2221.35" width="18.7" height="18.7" fill="#fca040"/>
<rect x="1453.35" y="2241.35" width="18.7" height="18.7" fill="#fca040"/>
<rect x="1502.95" y="2180.85" width="18.7" height="18.7" fill="#fca040"/>
<rect x="1552.45" y="2205.25" width="18.7" height="18.7" fill="#fca040"/>
<rect x="1601.15" y="2202.15" width="18.7" height="18.7" fill="#fca040"/>
<rect x="1650.65" y="2191.45" width="18.7" height="18.7" fill="#fca040"/>
<rect x="1699.85" y="2208.05" width="18.7" height="18.7" fill="#fca040"/>
<line x1="1069.3" y1="2250.9" x2="1069.3" y2="2307.5" stroke="#f00" stroke-width="4.2"/>
<line x1="1059.8" y1="2250.9" x2="1078.8" y2="2250.9" stroke="#f00" stroke-width="3.8"/>
<line x1="1059.8" y1="2307.5" x2="1078.8" y2="2307.5" stroke="#f00" stroke-width="3.8"/>
<line x1="1118.3" y1="2291.9" x2="1118.3" y2="2311.5" stroke="#f00" stroke-width="4.2"/>
<line x1="1108.8" y1="2291.9" x2="1127.8" y2="2291.9" stroke="#f00" stroke-width="3.8"/>
<line x1="1108.8" y1="2311.5" x2="1127.8" y2="2311.5" stroke="#f00" stroke-width="3.8"/>
<line x1="1167.5" y1="2141.2" x2="1167.5" y2="2197.3" stroke="#f00" stroke-width="4.2"/>
<line x1="1158" y1="2141.2" x2="1177" y2="2141.2" stroke="#f00" stroke-width="3.8"/>
<line x1="1158" y1="2197.3" x2="1177" y2="2197.3" stroke="#f00" stroke-width="3.8"/>
<line x1="1216.9" y1="2123" x2="1216.9" y2="2231.2" stroke="#f00" stroke-width="4.2"/>
<line x1="1207.4" y1="2123" x2="1226.4" y2="2123" stroke="#f00" stroke-width="3.8"/>
<line x1="1207.4" y1="2231.2" x2="1226.4" y2="2231.2" stroke="#f00" stroke-width="3.8"/>
<line x1="1266.1" y1="2185.5" x2="1266.1" y2="2245.6" stroke="#f00" stroke-width="4.2"/>
<line x1="1256.6" y1="2185.5" x2="1275.6" y2="2185.5" stroke="#f00" stroke-width="3.8"/>
<line x1="1256.6" y1="2245.6" x2="1275.6" y2="2245.6" stroke="#f00" stroke-width="3.8"/>
<line x1="1315.3" y1="2230.9" x2="1315.3" y2="2250.5" stroke="#f00" stroke-width="4.2"/>
<line x1="1305.8" y1="2230.9" x2="1324.8" y2="2230.9" stroke="#f00" stroke-width="3.8"/>
<line x1="1305.8" y1="2250.5" x2="1324.8" y2="2250.5" stroke="#f00" stroke-width="3.8"/>
<line x1="1413.7" y1="2209.4" x2="1413.7" y2="2240.5" stroke="#f00" stroke-width="4.2"/>
<line x1="1404.2" y1="2209.4" x2="1423.2" y2="2209.4" stroke="#f00" stroke-width="3.8"/>
<line x1="1404.2" y1="2240.5" x2="1423.2" y2="2240.5" stroke="#f00" stroke-width="3.8"/>
<line x1="1462.7" y1="2192.2" x2="1462.7" y2="2267.1" stroke="#f00" stroke-width="4.2"/>
<line x1="1453.2" y1="2192.2" x2="1472.2" y2="2192.2" stroke="#f00" stroke-width="3.8"/>
<line x1="1453.2" y1="2267.1" x2="1472.2" y2="2267.1" stroke="#f00" stroke-width="3.8"/>
<line x1="1512.3" y1="2199.9" x2="1512.3" y2="2246.1" stroke="#f00" stroke-width="4.2"/>
<line x1="1502.8" y1="2199.9" x2="1521.8" y2="2199.9" stroke="#f00" stroke-width="3.8"/>
<line x1="1502.8" y1="2246.1" x2="1521.8" y2="2246.1" stroke="#f00" stroke-width="3.8"/>
<line x1="1561.8" y1="2224.3" x2="1561.8" y2="2288.2" stroke="#f00" stroke-width="4.2"/>
<line x1="1552.3" y1="2224.3" x2="1571.3" y2="2224.3" stroke="#f00" stroke-width="3.8"/>
<line x1="1552.3" y1="2288.2" x2="1571.3" y2="2288.2" stroke="#f00" stroke-width="3.8"/>
<line x1="1610.5" y1="2230.9" x2="1610.5" y2="2328.5" stroke="#f00" stroke-width="4.2"/>
<line x1="1601" y1="2230.9" x2="1620" y2="2230.9" stroke="#f00" stroke-width="3.8"/>
<line x1="1601" y1="2328.5" x2="1620" y2="2328.5" stroke="#f00" stroke-width="3.8"/>
<line x1="1660" y1="2252" x2="1660" y2="2317" stroke="#f00" stroke-width="4.2"/>
<line x1="1650.5" y1="2252" x2="1669.5" y2="2252" stroke="#f00" stroke-width="3.8"/>
<line x1="1650.5" y1="2317" x2="1669.5" y2="2317" stroke="#f00" stroke-width="3.8"/>
<line x1="1709.2" y1="2236.5" x2="1709.2" y2="2293.3" stroke="#f00" stroke-width="4.2"/>
<line x1="1699.7" y1="2236.5" x2="1718.7" y2="2236.5" stroke="#f00" stroke-width="3.8"/>
<line x1="1699.7" y1="2293.3" x2="1718.7" y2="2293.3" stroke="#f00" stroke-width="3.8"/>
<polyline points="1069.3,2279.5 1118.3,2301.7 1167.5,2169.3 1216.9,2177.1 1266.1,2215.7 1315.3,2240.7 1364.3,2285.1 1413.7,2225.2 1462.7,2229.6 1512.3,2223 1561.8,2256.2 1610.5,2279.5 1660,2283.9 1709.2,2264.4" fill="none" stroke="#f00" stroke-width="4.6" stroke-linejoin="round"/>
<circle cx="1069.3" cy="2279.5" r="9.4" fill="#f00"/>
<circle cx="1118.3" cy="2301.7" r="9.4" fill="#f00"/>
<circle cx="1167.5" cy="2169.3" r="9.4" fill="#f00"/>
<circle cx="1216.9" cy="2177.1" r="9.4" fill="#f00"/>
<circle cx="1266.1" cy="2215.7" r="9.4" fill="#f00"/>
<circle cx="1315.3" cy="2240.7" r="9.4" fill="#f00"/>
<circle cx="1364.3" cy="2285.1" r="9.4" fill="#f00"/>
<circle cx="1413.7" cy="2225.2" r="9.4" fill="#f00"/>
<circle cx="1462.7" cy="2229.6" r="9.4" fill="#f00"/>
<circle cx="1512.3" cy="2223" r="9.4" fill="#f00"/>
<circle cx="1561.8" cy="2256.2" r="9.4" fill="#f00"/>
<circle cx="1610.5" cy="2279.5" r="9.4" fill="#f00"/>
<circle cx="1660" cy="2283.9" r="9.4" fill="#f00"/>
<circle cx="1709.2" cy="2264.4" r="9.4" fill="#f00"/>
</svg></body></html>
